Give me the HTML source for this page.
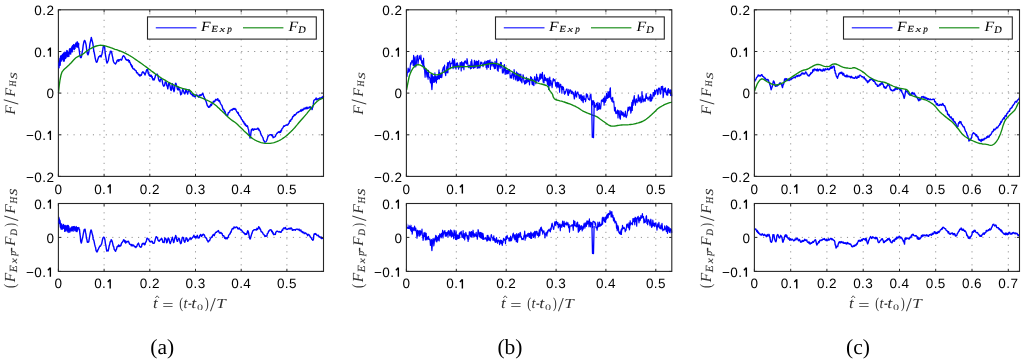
<!DOCTYPE html><html><head><meta charset="utf-8"><style>html,body{margin:0;padding:0;background:#fff;overflow:hidden}svg{display:block;will-change:transform;text-rendering:geometricPrecision}</style></head><body>
<svg width="1024" height="362" viewBox="0 0 1024 362">
<rect width="1024" height="362" fill="#fff"/>
<g font-family='"Liberation Sans", sans-serif' font-size="13.5" fill="#000">
<path d="M104.1 176.4V9.8M149.8 176.4V9.8M195.5 176.4V9.8M241.2 176.4V9.8M286.9 176.4V9.8" stroke="#8c8c8c" stroke-width="1" stroke-dasharray="1.1 5.4" stroke-dashoffset="0.5" fill="none"/>
<path d="M58.4 134.8H323.5M58.4 93.1H323.5M58.4 51.5H323.5" stroke="#8c8c8c" stroke-width="1" stroke-dasharray="1.1 5.35" stroke-dashoffset="4.2" fill="none"/>
<path d="M58.5 61.3 58.8 61.7 59.1 62 59.6 61.6 60 61.2 60.5 60.2 61.1 60.5 61.6 59.6 62.1 58.2 62.6 58.6 63.1 57.4 63.5 58.8 64 58.5 64.5 56.9 64.9 56.5 65.4 57 65.9 55.5 66.3 55.1 66.8 54.7 67.3 54.6 67.7 54.7 68.2 54.9 68.7 53 69.1 54 69.6 52.8 70 53 70.5 52.3 70.9 50.5 71.4 50.8 71.9 49 72.4 48 72.9 48.1 73.3 48.1 73.8 47 74.3 45.7 74.8 46.4 75.2 46 75.7 44 76.2 43.8 76.7 43.7 77.1 44.1 77.6 42.6 78 44 78.5 46.6 79 48.8 79.5 52.4 79.9 55.7 80.4 57.4 80.9 57.7 81.3 57.3 81.8 55.1 82.2 51.9 82.7 49.6 83.2 45.4 83.7 42.8 84.1 41.3 84.6 40.4 85.1 41.2 85.6 42.8 86.1 44.8 86.6 49.2 87 52.3 87.5 54 88 54.8 88.5 53.4 89 51 89.4 48 89.9 43.8 90.4 41.7 90.9 39.8 91.3 37.4 91.8 39.4 92.3 41.4 92.8 43.3 93.3 46.5 93.7 50.8 94.2 52.5 94.7 55.2 95.2 58.1 95.7 60.2 96.2 61.9 96.7 62.3 97.2 61.6 97.7 59.7 98.2 58.3 98.7 56.9 99.2 56.5 99.7 56.5 100.1 55.5 100.6 56.1 101 57.1 101.5 55.3 101.9 54.5 102.3 52.1 102.8 49.7 103.2 47.1 103.6 45.8 104.1 46 104.6 46.6 105 51.2 105.5 55.5 106 57.8 106.5 61.4 107 63 107.4 62.4 107.9 61.2 108.4 60.2 108.9 56.8 109.4 54.3 109.9 54 110.3 51.4 110.8 51.1 111.3 51.6 111.8 52.9 112.2 55.3 112.7 57.3 113.2 60.5 113.6 61.8 114.1 62.8 114.6 63.3 115 63.6 115.5 64.1 116 62.7 116.5 62.7 116.9 60.8 117.4 60.1 117.9 60.8 118.3 59.6 118.8 61.2 119.3 59.9 119.8 59.6 120.2 59.5 120.7 59.3 121.2 60.2 121.7 59.7 122.2 58.2 122.6 56.9 123.1 56 123.6 55.7 124 56 124.6 57 125.1 57.6 125.5 58.9 126 59.7 126.5 59.4 127 60.3 127.4 60 127.9 60.6 128.4 59.8 129 62 129.4 60.6 129.8 62.6 130.3 62.9 130.8 64.8 131.2 64.4 131.7 66.8 132.2 65.9 132.7 68.2 133.2 68.8 133.7 69 134.2 68.9 134.7 69.8 135.2 70.4 135.7 70.4 136.1 70.8 136.6 72.7 137.1 72.7 137.7 72.9 138.2 74.3 138.7 74.9 139.2 74.5 139.6 75.8 140 76.1 140.5 75 141 74.8 141.3 75.2 141.7 74 142.1 72.6 142.5 72.2 142.9 71.8 143.3 72.1 143.7 73.1 144.1 72.8 144.5 73.8 145 75 145.4 73.5 145.9 72.5 146.3 70.9 146.7 69.6 147.1 70 147.6 69.2 147.9 71.5 148.3 73.5 148.7 73 149.1 75.3 149.5 75.7 149.9 74.9 150.3 76.3 150.7 75.8 151.2 75.3 151.6 77 152.1 76.5 152.6 79.1 153.2 80 153.7 78.8 154.2 79.9 154.6 78.5 155.1 77.3 155.6 74.6 156.1 74.6 156.6 74.4 157.1 74.1 157.6 74.9 158.1 76.6 158.6 79.4 159.1 80.9 159.5 81 160 81.7 160.3 79.4 160.7 79 161.2 78.8 161.6 79.1 162.1 80.2 162.7 83.7 163.2 85.4 163.7 86.2 164.1 85.8 164.6 85.5 164.9 83.6 165.3 81.8 165.7 82.4 166.3 82.7 166.8 85.7 167.4 86.6 167.8 88.9 168.3 85.7 168.6 83.5 169 83.7 169.4 83 169.8 85.1 170.3 87.1 170.7 89.9 171.1 90.4 171.6 89.6 172 85.4 172.4 83.8 172.8 85.3 173.2 88.3 173.6 90.1 174 91.7 174.4 90.1 174.8 86.5 175.2 84.6 175.7 83.2 176.1 83.8 176.6 85.9 177 87.1 177.4 89.2 177.8 88.6 178.2 90.1 178.6 87.4 179 88.4 179.4 89.6 179.8 89.6 180.3 92.4 180.7 94.8 181.1 93.6 181.5 94 181.9 92.3 182.3 90.6 182.7 89.4 183.1 89.9 183.5 91.3 184 92.5 184.4 93.3 184.8 93.9 185.3 92.7 185.7 90.1 186.1 89.1 186.5 90.1 186.9 92.5 187.3 92.4 187.7 94 188.1 92 188.5 90.9 189 89.7 189.4 91 189.9 91.4 190.5 93.4 191 93.9 191.5 94.4 192 94.1 192.5 95.9 193 94.4 193.5 95.4 194 96.6 194.4 96.5 194.8 95.9 195.2 97.1 195.6 95.2 196 95.1 196.4 94.8 196.8 95.4 197.2 95.2 197.7 96.1 198.1 96.2 198.5 97.2 198.9 96.4 199.4 95 199.8 95.5 200.2 95.3 200.7 94.7 201.1 95.5 201.5 94.7 201.9 94.6 202.3 93.8 202.7 93.3 203.1 94.3 203.5 95.6 203.9 96.9 204.3 96.9 204.6 99.2 205 98.6 205.5 100.4 205.9 101.1 206.3 102.1 206.8 103.8 207.3 105.5 207.7 106.1 208.2 106.4 208.6 107.4 209.1 107.1 209.5 106.1 209.9 106.9 210.4 105.3 210.8 104.2 211.2 105.6 211.6 105 212 103.7 212.4 103.5 212.9 102.8 213.4 101.1 213.8 102.1 214.3 101.3 214.8 101.5 215.3 100.1 215.8 99.3 216.3 100 216.8 99.4 217.3 100 217.8 98.6 218.2 100.2 218.7 101.1 219.1 100.3 219.6 100.8 220 102.4 220.5 103.5 221 104.3 221.5 105 222 105.7 222.5 107.5 223 109.2 223.5 109.2 224 110 224.4 111.9 224.9 111.3 225.4 113 225.8 114.3 226.2 114.9 226.6 115.2 227 115.3 227.4 114.7 227.8 115.2 228.3 112.7 228.7 112.8 229.1 112.1 229.6 112 230 110.7 230.5 110.1 230.9 110.1 231.4 110 231.9 109.4 232.4 109.9 232.9 108.9 233.4 108.4 233.8 109.3 234.3 109 234.8 108.4 235.3 109.5 235.8 109.2 236.3 110.7 236.8 111.8 237.3 112.1 237.7 113.2 238.2 112.5 238.7 114.7 239.2 115.5 239.7 115.4 240.2 116.8 240.6 117 241 117.9 241.5 119.2 242 119.6 242.4 120.2 242.8 121.4 243.2 121.9 243.6 121.4 244 123 244.5 124.1 244.9 123.3 245.4 125.4 245.8 124.6 246.2 126 246.7 126.3 247.2 125.8 247.6 126.3 248.1 128.4 248.6 129.9 249.1 133.6 249.6 135.8 250.1 138 250.5 137.1 250.9 133.2 251.4 129.7 251.8 130.5 252.2 129 252.6 128.8 253.1 129.1 253.6 130.3 254.1 129.2 254.6 129 255.1 129.4 255.6 129.3 256.1 129.4 256.6 129.1 257.1 128.8 257.6 128.2 258.1 128.3 258.5 129.7 259 129.3 259.4 130.7 259.8 130.9 260.2 131.4 260.6 133.3 261.1 134.6 261.5 135.4 262 136 262.5 137 263 137.9 263.5 140.2 264 140.6 264.4 141.7 265 142.3 265.4 142 265.8 141.7 266.3 141.2 266.7 140.5 267.1 139.2 267.5 138.2 268 135.9 268.4 136.2 268.9 135.4 269.3 135 269.8 134.9 270.3 134.8 270.8 134.6 271.3 134.7 271.8 135.8 272.2 134.8 272.7 136.2 273.2 137.7 273.6 137.1 274.1 137.1 274.5 137.1 274.9 136.8 275.4 136.3 275.9 134.9 276.4 134.1 276.9 133.2 277.4 133.2 277.9 132.2 278.3 132.3 278.8 131.8 279.2 132.5 279.7 132.3 280.1 131.2 280.6 132.3 281.1 130.3 281.5 130.7 282 128.7 282.5 128.3 283 127.6 283.4 126.8 283.9 125.8 284.4 126.3 284.8 125.8 285.2 125.6 285.7 125.4 286.1 124.9 286.6 125 287.1 125.3 287.6 124.8 288 124.7 288.5 123.6 289 123.4 289.5 121.3 290 120.5 290.5 121.2 291 119.5 291.5 119.2 292 119.1 292.5 117.1 292.9 116.5 293.4 116.6 293.9 115.5 294.4 114.7 294.9 115.5 295.4 114.7 295.8 114.1 296.3 114 296.8 112.9 297.2 112.7 297.7 112.2 298.3 112.5 298.8 111.7 299.2 111.7 299.7 111.4 300.1 111.2 300.6 109.9 301.1 111.1 301.6 111.1 302.1 109.2 302.5 110.3 303 109.8 303.5 109.9 304 108.2 304.5 108.1 305 108.9 305.5 108.6 306 107.5 306.5 108.7 307 107.1 307.5 108.5 307.9 108.1 308.4 107.9 308.8 108.1 309.2 106.9 309.8 107.6 310.3 106.8 310.8 108.7 311.3 108 311.7 108.1 312.1 109.6 312.4 107.9 312.9 107 313.3 104.4 313.7 101.1 314.1 100.1 314.5 100 315 99.7 315.7 99 316.1 98 316.5 99.9 317 99.4 317.5 98.9 318.1 99.4 318.6 98.6 319.1 98.5 319.6 98.1 320.1 98.6 320.7 98.7 321.2 97.5 321.8 97.4 322.3 97.5 322.8 96.5 323.2 97.9 323.5 96.4" stroke="#0000ff" stroke-width="1.4" fill="none" stroke-linejoin="round"/>
<path d="M58.5 93 59.2 86 60 80 61 75 62.1 71.8 63.3 70.3 64.5 69 65.4 68.2 66.3 67.4 67.6 66.2 69 65 69.9 64.1 71 63 72.1 61.7 73.4 60.3 74.6 59 75.9 57.8 77.5 56.8 78.7 56.2 80.2 55.5 81.7 54.8 82.9 54.1 84 53.2 84.9 52.4 86 51.5 87.2 50.7 88.6 49.8 89.9 49 91.2 48.3 92.5 47.6 93.7 47 95 46.5 96.4 46 97.9 45.6 99.5 45.3 100.7 45.2 101.9 45.3 103.2 45.5 104.8 45.8 106.1 46.2 107.5 46.6 109.1 47.1 110.6 47.7 112.2 48.2 113.8 48.8 115.1 49.3 116.5 49.7 117.8 50.2 119.2 50.7 120.5 51.2 121.8 51.7 123 52.2 124.4 52.8 125.7 53.4 126.9 54.1 128.2 54.7 129.4 55.5 130.7 56.2 132 57 133.2 57.8 134.5 58.7 135.8 59.6 137.1 60.5 138.5 61.5 139.8 62.4 141.1 63.3 142.5 64.3 143.8 65.3 145.2 66.2 146.4 67.1 147.6 68 149 69.1 150.3 70 151.4 71 152.7 71.9 154 72.9 155.2 73.8 156.5 74.7 157.8 75.6 159.2 76.6 160.6 77.5 162.1 78.5 163.5 79.3 165 80.2 166.5 81.1 168.1 82 169.7 82.8 171.1 83.6 172.5 84.3 173.9 85 175.3 85.6 176.6 86.2 177.8 86.7 179 87.2 180.1 87.6 181.7 88.2 183.3 88.6 184.7 89 186 89.3 187.5 89.6 188.8 89.9 190 90.4 191.1 91.4 192.1 92.7 193.2 93.8 194.3 94.6 195.5 95.2 197.1 96 198.2 96.5 199.4 97 200.7 97.5 202.1 98.1 203.5 98.7 204.9 99.3 206.1 99.9 207.4 100.4 208.7 101 210 101.7 211.4 102.4 212.7 103.1 214 104 215.3 105 216.6 106.1 218 107.4 219.3 108.6 220.6 109.9 221.9 111.1 223.1 112.3 224.5 113.6 225.9 114.9 227.2 116.2 228.5 117.4 229.7 118.5 230.9 119.5 232.4 120.6 233.6 121.4 234.9 122.2 236.5 123.5 237.8 124.7 239.3 126.2 240.9 127.7 242.5 129.3 244 130.9 245.5 132.3 246.9 133.6 248.2 134.8 249.5 136 250.7 137.1 252 138.1 253.3 139 254.6 139.8 255.9 140.5 257.2 141.2 258.5 141.7 259.8 142.2 261.1 142.6 262.4 142.9 263.7 143.2 265 143.3 266.3 143.4 267.6 143.4 268.9 143.4 270.2 143.3 271.5 143.1 272.8 142.9 274.1 142.6 275.4 142.2 276.7 141.7 278 141.1 279.3 140.5 280.6 139.8 281.9 139 283.2 138.1 284.5 137.2 285.8 136.2 287.1 135.2 288.4 134 289.7 132.8 291 131.6 292.3 130.3 293.6 128.9 294.9 127.5 296.2 125.9 297.5 124.4 298.8 122.8 300.1 121.3 301.4 119.8 302.8 118.2 304.2 116.6 305.5 115.1 306.8 113.6 307.9 112.2 309.4 110.3 310.7 108.7 311.9 107.1 313.1 105.6 314.4 104.1 315.7 102.7 317 101.5 318.3 100.4 319.7 99.5 321.2 98.9 322.6 98.4 323.5 98" stroke="#128a12" stroke-width="1.35" fill="none" stroke-linejoin="round"/>
<path d="M58.4 176.4v-2.6M58.4 9.8v2.6M104.1 176.4v-2.6M104.1 9.8v2.6M149.8 176.4v-2.6M149.8 9.8v2.6M195.5 176.4v-2.6M195.5 9.8v2.6M241.2 176.4v-2.6M241.2 9.8v2.6M286.9 176.4v-2.6M286.9 9.8v2.6M58.4 176.4h2.6M323.5 176.4h-2.6M58.4 134.8h2.6M323.5 134.8h-2.6M58.4 93.1h2.6M323.5 93.1h-2.6M58.4 51.5h2.6M323.5 51.5h-2.6M58.4 9.8h2.6M323.5 9.8h-2.6" stroke="#262626" stroke-width="1" fill="none"/>
<rect x="58.4" y="9.8" width="265.1" height="166.6" fill="none" stroke="#262626" stroke-width="1.1"/>
<text x="54.5" y="193.55">0</text>
<text x="94.17 102.01" y="193.55">0.</text><path d="M110.19 184.3V193.55M110.14 184.65L107.74 187.15" stroke="#000" stroke-width="1.4" fill="none"/>
<text x="139.87 147.71 151.94" y="193.55">0.2</text>
<text x="185.58 193.42 197.65" y="193.55">0.3</text>
<text x="231.29 239.13 243.36" y="193.55">0.4</text>
<text x="276.99 284.83 289.06" y="193.55">0.5</text>
<text x="26 34.31 42.15 46.4" y="181.75">−0.2</text>
<text x="26 34.31 42.15" y="140.1">−0.</text><path d="M50.35 130.85V140.1M50.3 131.2L47.9 133.7" stroke="#000" stroke-width="1.4" fill="none"/>
<text x="46.4" y="98.45">0</text>
<text x="34.31 42.15" y="56.8">0.</text><path d="M50.35 47.55V56.8M50.3 47.9L47.9 50.4" stroke="#000" stroke-width="1.4" fill="none"/>
<text x="34.31 42.15 46.4" y="15.15">0.2</text>
<path d="M104.1 271.4V203.5M149.8 271.4V203.5M195.5 271.4V203.5M241.2 271.4V203.5M286.9 271.4V203.5" stroke="#8c8c8c" stroke-width="1" stroke-dasharray="1.1 5.4" stroke-dashoffset="0.5" fill="none"/>
<path d="M58.4 237.4H323.5" stroke="#8c8c8c" stroke-width="1" stroke-dasharray="1.1 5.35" stroke-dashoffset="4.2" fill="none"/>
<path d="M58.6 216.9 58.9 218 59.4 220 59.9 220.4 60.2 223.3 60.6 224.2 61.2 225.3 61.6 226.5 62 226.4 62.4 226.4 62.9 227.2 63.5 227.8 64 227.5 64.5 228.9 65 228.1 65.5 229.1 66 228.7 66.5 228.5 67 229.4 67.5 230 68 229.8 68.5 230.2 69 229.3 69.5 229.3 70 229.2 70.4 229.7 70.9 230.2 71.3 229.2 71.8 229.7 72.4 228.3 72.9 228.3 73.3 229 73.8 229 74.3 228.9 74.9 227.5 75.4 228.1 75.9 227.4 76.4 228.1 76.9 227.7 77.4 227.8 77.8 228 78.1 228.4 78.8 227.6 79.1 229.2 79.5 229.6 79.9 233.7 80.3 236.5 80.7 241.2 81.3 243.1 81.7 241.7 82.1 239.5 82.6 237.8 83.1 235 83.6 232.3 84.1 229.8 84.6 229.4 85.1 229.3 85.5 232.2 86 234.4 86.4 238 86.9 239.4 87.3 242.2 87.8 242.4 88.3 242.2 88.8 241.7 89.2 238.9 89.7 236.1 90.2 233.1 90.7 230.8 91.1 229.9 91.6 231.1 92 233.1 92.4 234.5 92.8 235.8 93.2 239.3 93.7 240 94.1 241.4 94.6 244.2 95.1 246.2 95.6 247.5 96.1 250.8 96.5 251 96.9 252 97.5 251.2 98 249.5 98.4 249.2 98.9 247.8 99.4 246.9 99.8 246.1 100.2 246.3 100.8 245.6 101.2 244.4 101.6 244.2 102.1 241.7 102.6 239.1 103 237.9 103.5 237.3 104 237.2 104.5 238.3 104.9 239.7 105.4 243.6 105.8 245.2 106.3 248.5 106.8 251 107.3 250.8 107.8 250.3 108.2 250.9 108.7 248.6 109.2 245.7 109.7 244.5 110.2 241.6 110.7 241.6 111.2 239.7 111.7 240.2 112.2 241.4 112.7 243.7 113.2 246 113.7 246.7 114.2 249.3 114.7 250 115.1 250.8 115.6 251.3 116 249.9 116.4 249.7 116.8 247.9 117.2 246.4 117.7 246.6 118.1 246 118.6 245 119.1 246.5 119.5 246.1 120 245.4 120.5 245.9 120.9 245.5 121.4 243.5 121.8 242.7 122.2 242.5 122.7 241.5 123.1 241.2 123.5 239.9 123.9 239.8 124.4 240.5 124.8 242.1 125.3 240.8 125.7 243 126.1 242.6 126.6 242.1 127 241.3 127.4 241.6 128 241.7 128.4 241.3 128.9 242.3 129.4 243.8 129.9 244.4 130.4 244.5 130.9 244.4 131.3 245.7 131.8 244.4 132.2 245.8 132.7 245.8 133.1 244.9 133.5 245.3 133.9 245.5 134.4 246.6 134.9 246.8 135.4 246.5 135.9 247.6 136.3 246.6 136.8 246.5 137.2 245 137.7 244.2 138.1 243.6 138.5 243.1 139.1 244.9 139.5 246.2 140 246.7 140.5 247.2 141 247 141.5 246.8 141.9 244.6 142.4 243.5 142.9 244 143.3 243.5 143.7 243.3 144.1 243.6 144.5 244.9 145 244.7 145.5 242.4 146 242 146.5 240.5 147 238.1 147.5 238.4 148 238.8 148.5 239.1 149 240.1 149.5 241.3 150 241.8 150.5 241.4 151 241.9 151.5 241.1 151.9 241.2 152.4 241.6 152.8 243.2 153.2 243.4 153.7 243.4 154.2 243.2 154.7 241.5 155.2 239.6 155.7 238 156.2 236.6 156.7 237.1 157.2 237.4 157.6 238.6 158.1 240.4 158.6 240.4 159.1 241.3 159.6 240.7 160.1 239.8 160.6 239.9 161.1 238.9 161.6 238.3 162.1 239.1 162.5 240.7 162.9 242.4 163.3 242 163.7 242.4 164.1 242.6 164.5 240.1 164.9 238 165.3 238.5 165.7 238.7 166.2 239.6 166.6 242.7 167 242.6 167.4 241.1 167.8 239.4 168.2 237.9 168.6 238.5 169 239 169.4 241 169.8 242.7 170.3 243.6 170.7 242.3 171.2 241 171.6 239.4 172 238.4 172.4 237.2 172.8 239.2 173.2 240.9 173.6 242.6 174 242 174.4 239.6 174.9 237.7 175.3 237.1 175.7 235.5 176.1 236.6 176.5 239.1 176.9 240.3 177.3 241.4 177.7 241 178.1 239.4 178.6 238.3 179 238.2 179.4 239 179.8 240.8 180.3 243 180.7 243.7 181.2 243 181.7 240.6 182.2 237.8 182.7 237.2 183.1 237.5 183.6 238.2 184 241.1 184.4 240.9 184.8 242.3 185.3 240.6 185.7 239.7 186.1 237.6 186.5 238.2 186.9 238.3 187.3 239.8 187.7 241.4 188.1 240.7 188.5 240.5 188.9 239.7 189.4 238.9 189.8 238.5 190.2 237.9 190.6 238.2 191 239.5 191.5 238.5 191.9 238.6 192.4 237.3 193 237.3 193.5 236.3 193.9 235.2 194.4 236.7 194.8 237.5 195.2 237.1 195.6 236.6 196 238 196.5 236.4 196.9 236.5 197.3 235.3 197.7 236.8 198.1 238 198.5 237.4 198.9 237.3 199.3 237.8 199.8 235.5 200.2 235.7 200.6 234.4 201.1 235.2 201.6 236.4 202 235.3 202.5 235.4 203 234.2 203.5 234.2 203.9 234.5 204.3 235.1 204.7 235.9 205.1 237.3 205.6 237.8 206 237.7 206.5 238.2 207.1 240.2 207.6 240.6 208.1 242 208.5 240.9 209.1 240.9 209.6 240.8 210 239.3 210.5 238.4 210.9 237.9 211.3 237.1 211.8 237.4 212.2 237 212.6 235.3 213 235 213.4 234.4 213.8 234.9 214.2 235.7 214.7 234.2 215.1 233.3 215.6 232.5 216.2 232.1 216.7 232.2 217.2 231.4 217.6 231.3 218.1 231.4 218.5 230.6 218.9 231.9 219.3 232.8 219.7 233 220.2 233.2 220.7 232.4 221.2 232.8 221.7 233.6 222.1 233.5 222.5 235 222.9 235.9 223.3 235.9 223.8 235.7 224.2 237 224.7 238.2 225.1 237.3 225.6 238.8 226.1 238.4 226.7 237.8 227.1 238.9 227.6 237.5 228.1 237.5 228.7 235.3 229.2 234.6 229.7 234 230.2 233.8 230.6 231.9 231.1 232.2 231.6 230.2 232 229.2 232.4 228.5 232.8 228.7 233.2 228.8 233.6 228.6 234 226.9 234.4 227.2 234.8 227.6 235.3 227.7 235.8 227.4 236.2 227 236.7 227 237.2 227.3 237.7 228.8 238.2 228.7 238.7 229 239.2 227.8 239.6 228.6 240.1 229.4 240.5 229.9 240.9 229.5 241.3 230.1 241.7 230.4 242.2 231.1 242.6 232 243.1 232 243.7 233 244.2 232.9 244.7 233.8 245.2 234.5 245.7 233.7 246.1 234 246.7 234.3 247.2 232.5 247.7 230.8 248.1 231.1 248.6 232.8 249 235.3 249.5 237.7 250 239.1 250.4 238.5 250.8 237 251.2 235.8 251.6 234.1 252.1 233.1 252.6 231.4 253 230.7 253.5 230.4 254 229.8 254.5 229.9 255.1 229.5 255.6 229.9 256.1 229.5 256.5 230 257 228.3 257.5 229.4 257.9 228.8 258.3 228.1 258.7 226.6 259.1 227.9 259.5 227.5 259.9 229.1 260.4 229 260.8 230.4 261.2 231.7 261.7 231.8 262.1 232.2 262.6 232.5 263.1 234.1 263.6 234.1 264.1 234.8 264.6 235.9 265 236.5 265.6 235.8 266 236.2 266.4 235.8 266.9 236.1 267.3 233.7 267.7 233.5 268.2 232.6 268.6 231 269.1 231.1 269.5 230.6 269.9 229.9 270.4 229.7 270.8 230 271.3 230 271.7 231.5 272.1 231 272.6 233 273.1 232.6 273.5 234.6 274.1 234.1 274.5 234.4 274.9 234.5 275.4 234.4 275.8 232.1 276.3 231.9 276.8 231.1 277.3 231.2 277.8 231.4 278.2 231.7 278.7 232 279.2 232 279.8 231.4 280.3 232.2 280.7 232.4 281.2 232.2 281.7 231 282.2 229.9 282.7 230.3 283.1 228.8 283.6 228.1 284 227.9 284.5 228.1 285 228.7 285.4 227.5 285.9 228.5 286.3 229.2 286.8 229.5 287.2 229.1 287.7 229.2 288.2 228.7 288.6 228.5 289.1 228.8 289.6 228.3 290.1 229.1 290.5 228.6 290.9 227.9 291.4 228.2 291.9 228.8 292.3 230.3 292.9 230.4 293.3 229.6 293.8 229.8 294.3 229.7 294.8 229.8 295.3 230.2 295.8 229.5 296.3 229.2 296.8 229.1 297.3 229.1 297.8 229.6 298.2 229.7 298.7 229.9 299.1 229.1 299.5 230.4 300 230.8 300.5 230.2 300.9 229.9 301.4 231.8 301.8 231.8 302.3 231.5 302.8 232.7 303.3 232.5 303.8 232.2 304.2 233.6 304.7 233.6 305.3 232.9 305.8 233 306.3 233.9 306.7 234 307.2 234.5 307.7 235.7 308.2 234.3 308.7 234.9 309.1 234.9 309.5 235.1 310 236.4 310.4 237.3 310.9 237.3 311.4 238.3 311.8 239.3 312.3 239.2 312.6 240.1 313 240.3 313.5 239.1 313.8 235.2 314.3 233.6 314.7 234.3 315.1 234.3 315.5 233.6 316 234 316.6 234.9 317.1 235.5 317.6 235.5 318.1 235.1 318.6 236.3 319.1 236.7 319.6 236.5 320.2 237.5 320.6 237.8 321.1 236.9 321.5 238.6 322.2 238.2 322.7 237.9 323.2 238.6 323.5 237.8" stroke="#0000ff" stroke-width="1.4" fill="none" stroke-linejoin="round"/>
<path d="M58.4 271.4v-2.6M58.4 203.5v2.6M104.1 271.4v-2.6M104.1 203.5v2.6M149.8 271.4v-2.6M149.8 203.5v2.6M195.5 271.4v-2.6M195.5 203.5v2.6M241.2 271.4v-2.6M241.2 203.5v2.6M286.9 271.4v-2.6M286.9 203.5v2.6M58.4 271.4h2.6M323.5 271.4h-2.6M58.4 237.4h2.6M323.5 237.4h-2.6M58.4 203.5h2.6M323.5 203.5h-2.6" stroke="#262626" stroke-width="1" fill="none"/>
<rect x="58.4" y="203.5" width="265.1" height="67.9" fill="none" stroke="#262626" stroke-width="1.1"/>
<text x="54.5" y="288.45">0</text>
<text x="94.17 102.01" y="288.45">0.</text><path d="M110.19 279.2V288.45M110.14 279.55L107.74 282.05" stroke="#000" stroke-width="1.4" fill="none"/>
<text x="139.87 147.71 151.94" y="288.45">0.2</text>
<text x="185.58 193.42 197.65" y="288.45">0.3</text>
<text x="231.29 239.13 243.36" y="288.45">0.4</text>
<text x="276.99 284.83 289.06" y="288.45">0.5</text>
<text x="26 34.31 42.15" y="276.65">−0.</text><path d="M50.35 267.4V276.65M50.3 267.75L47.9 270.25" stroke="#000" stroke-width="1.4" fill="none"/>
<text x="46.4" y="242.73">0</text>
<text x="34.31 42.15" y="208.8">0.</text><path d="M50.35 199.55V208.8M50.3 199.9L47.9 202.4" stroke="#000" stroke-width="1.4" fill="none"/>
<path d="M456.3 176.4V9.8M506.2 176.4V9.8M556.1 176.4V9.8M605.9 176.4V9.8M655.8 176.4V9.8" stroke="#8c8c8c" stroke-width="1" stroke-dasharray="1.1 5.4" stroke-dashoffset="0.5" fill="none"/>
<path d="M406.4 134.8H671.8M406.4 93.1H671.8M406.4 51.5H671.8" stroke="#8c8c8c" stroke-width="1" stroke-dasharray="1.1 5.35" stroke-dashoffset="4.2" fill="none"/>
<path d="M406.6 74.1 407 76.4 407.3 72.6 407.7 72 408.1 68.1 408.4 71.2 408.8 72.2 409.1 69 409.5 70.8 409.9 71.2 410.2 66.5 410.6 62.9 411 64.3 411.4 62.2 411.8 60.9 412.1 60.3 412.5 62.2 412.9 63 413.2 65.5 413.6 55.4 414 59.8 414.4 66.7 414.7 64.2 415.1 56.9 415.5 64.2 415.8 67 416.2 65 416.6 60.8 416.9 56.1 417.3 57 417.6 55.4 418 64 418.4 60.7 418.7 59.4 419.1 58.8 419.4 55.8 419.8 58.3 420.2 58.1 420.6 60 420.9 55 421.3 59.7 421.7 63.2 422.1 61.9 422.4 60.7 422.8 65.6 423.2 63.8 423.6 58.2 424 69 424.4 66 424.7 72 425.1 77.3 425.5 70.9 425.9 69 426.3 69.4 426.6 74 427 76.9 427.3 72.1 427.7 73.2 428.1 79.2 428.4 70.4 428.8 76.8 429.1 76.8 429.5 77.4 429.9 78.5 430.3 82.3 430.7 83 431.1 74.1 431.4 79.3 431.8 80.6 432.2 74.2 432.6 79.4 433 76.3 433.4 79 433.7 82.5 434.1 77.2 434.5 82.2 434.9 72.9 435.2 81.3 435.6 80.3 436 76.2 436.4 82.9 436.7 78.8 437.1 76.6 437.5 79.5 437.9 75.2 438.2 79 438.6 74.3 439 69.9 439.4 79 439.8 72.7 440.1 77.3 440.5 77.5 440.9 73.3 441.3 73.3 441.7 77.6 442.1 75.3 442.4 70.5 442.8 69.2 443.1 68.2 443.5 66.8 443.9 69.6 444.2 71.9 444.6 65 444.9 72.5 445.3 73.4 445.7 75.7 446 71 446.4 70.5 446.8 66.6 447.1 72.8 447.5 62.7 447.9 72.8 448.3 66.6 448.6 62.5 449 62.9 449.4 62.5 449.7 61 450.1 68.8 450.4 67.4 450.8 63.3 451.2 63.6 451.5 63.7 451.9 62.7 452.2 62.5 452.6 58.5 453 68.6 453.4 64.2 453.7 60.7 454.1 67.8 454.5 59 454.9 63.4 455.2 65.6 455.6 67.5 456 69.2 456.4 63.1 456.7 67 457.1 64.5 457.5 62.8 457.9 67.3 458.2 65.3 458.6 69.2 459 66.3 459.3 66.5 459.7 67.2 460.1 62.5 460.5 62.7 460.8 63.4 461.2 70.9 461.6 61.7 461.9 63.8 462.3 67.5 462.7 67.7 463.1 62.3 463.5 64.5 463.9 69.7 464.2 65.1 464.6 61.2 465 62.1 465.4 60.9 465.8 63.2 466.2 63.2 466.6 64 467 58.5 467.3 59.9 467.7 63 468.1 66.4 468.5 67.1 468.9 67.7 469.3 65.2 469.7 65.4 470.1 66.4 470.5 68.9 470.9 61.5 471.3 68.5 471.7 59.7 472.1 63.3 472.4 65.7 472.8 67.7 473.2 65.4 473.6 68.3 474 65.1 474.4 60.3 474.8 67.7 475.2 67.5 475.6 62.6 476 61 476.4 65.6 476.8 61.2 477.2 68.2 477.6 61.5 478 68.1 478.4 67.6 478.7 60.4 479.1 66.9 479.5 67.7 479.9 67.9 480.3 66.3 480.7 62 481.1 62.1 481.5 63.6 481.9 62.4 482.3 64.5 482.7 65.6 483.1 66.7 483.4 64.7 483.8 63 484.2 62.3 484.6 64.1 485 61.1 485.4 64.4 485.8 63.8 486.1 67.5 486.5 61.4 486.9 69.1 487.3 63.6 487.7 60.5 488.1 65.2 488.4 67.5 488.8 60.6 489.2 63.6 489.6 62.6 490 59.8 490.4 69.4 490.8 62.6 491.1 66.2 491.5 62.1 491.9 64.9 492.3 62.2 492.7 63.1 493.1 66.1 493.5 63 493.9 64.8 494.2 67.9 494.6 68.7 495 61.4 495.4 68.4 495.8 64.4 496.2 64.7 496.6 58.9 497 66.4 497.4 70.1 497.8 65.5 498.2 71.3 498.5 65 498.9 63.8 499.3 66.2 499.7 66.1 500.1 68.5 500.5 62.3 500.9 66.9 501.3 62.6 501.7 67.3 502.1 67 502.4 72.9 502.8 69.9 503.2 72.9 503.6 70.6 504 65.7 504.4 64.5 504.8 71.3 505.2 74.4 505.6 67.6 505.9 73 506.3 70.3 506.7 74 507.1 70.5 507.5 70.4 507.9 73.8 508.3 73.5 508.7 70.4 509.1 70.8 509.5 69.5 509.9 72.5 510.2 77.9 510.6 76.1 511 77.8 511.4 75 511.8 78.1 512.2 72.9 512.6 72.6 513 75.1 513.4 75.6 513.8 79.3 514.1 69.5 514.5 72.8 514.9 76.3 515.3 75.9 515.7 79.9 516.1 77.4 516.5 71.8 516.9 74.1 517.3 80.9 517.7 73 518 80 518.4 80.7 518.8 73.8 519.2 79.3 519.6 74.3 520 80.3 520.4 80.8 520.8 74 521.2 80.1 521.5 81.9 521.9 82.9 522.3 79.2 522.7 77.8 523.1 74.7 523.5 76.4 523.9 82 524.3 82 524.7 84.2 525.1 80.5 525.5 81.7 525.9 83.6 526.3 77.4 526.7 78 527.1 82.5 527.5 79 527.9 79.5 528.3 81.5 528.7 78.9 529.1 80.6 529.5 84.9 529.9 80.6 530.3 80.7 530.7 76.6 531.1 78.2 531.5 77.6 531.9 82.8 532.3 84.5 532.7 79.2 533.1 85 533.5 83.5 533.9 85.6 534.3 79.2 534.7 76.6 535.1 78.7 535.5 79.7 535.8 83.8 536.2 81.8 536.6 74.2 537 78.4 537.4 80.2 537.8 77.4 538.2 81.4 538.6 81.4 539 80.5 539.3 80.4 539.7 75.7 540.1 73.8 540.5 79.1 540.9 77.1 541.3 74.2 541.7 76.5 542 78.5 542.4 72.3 542.8 78.8 543.2 82.2 543.6 80.3 544 82.9 544.3 74.9 544.7 77.3 545.1 80.3 545.5 77.6 545.9 80.8 546.3 80.9 546.6 80.1 547 78.5 547.4 84.4 547.8 81.5 548.2 78.2 548.6 89.5 549 85.8 549.4 80.5 549.8 77.1 550.2 85.7 550.6 80.6 551 80.8 551.4 83.5 551.8 85.4 552.1 87.6 552.5 83.6 552.9 80.5 553.3 78.5 553.7 81 554.1 80 554.5 79.9 554.9 79.5 555.3 82.7 555.7 86.1 556.1 82.9 556.5 82.6 556.9 88 557.3 86 557.6 82.2 558 84.5 558.4 87.1 558.8 82.7 559.2 86 559.6 92.1 559.9 86.6 560.3 84.4 560.7 84.2 561.1 87.2 561.5 86.6 561.9 93.3 562.2 86.4 562.6 86.9 563 89.4 563.4 87.1 563.8 90.3 564.2 93.1 564.6 94.3 565 91.6 565.3 93.3 565.7 92 566.1 90.1 566.5 89.2 566.9 88.9 567.3 90.2 567.7 93.7 568.1 95.5 568.5 95.1 568.8 89.4 569.2 93.2 569.6 92.4 570 90.9 570.4 89.9 570.8 90.4 571.2 91.9 571.6 93.6 572 91.1 572.4 92.7 572.8 92.1 573.1 94.3 573.5 92.9 573.9 96 574.3 99 574.7 97.9 575.1 92.4 575.5 91.1 575.9 95.9 576.3 95.3 576.6 97.1 577 92.9 577.4 93.1 577.8 91.9 578.2 93.5 578.6 94.6 579 95.5 579.4 98.5 579.8 96.7 580.1 94.7 580.5 96.5 580.9 99.6 581.3 94.9 581.7 100.7 582.1 98.2 582.5 96 582.8 101.5 583.2 102.6 583.6 97.6 584 95.7 584.4 99.5 584.8 98.7 585.2 99.1 585.5 101.6 585.9 99.9 586.3 94 586.7 93.8 587.1 96.8 587.5 94.7 587.8 96.5 588.2 98.8 588.6 99.5 589 98.9 589.4 100.1 589.8 99.6 590.2 94.8 590.6 95 590.9 94.1 591.3 99.5 591.7 101.6 592.1 103.4 592.5 104.9 592.9 100.5 593.3 102.7 593.7 100.9 594.1 106.5 594.4 104.4 594.8 107.5 595.2 107.5 595.6 105.5 596 104.7 596.4 103.2 596.8 104.5 597.1 110.5 597.5 108.9 597.9 102.4 598.3 108.7 598.7 109.5 599.1 108.7 599.5 103.2 599.8 106.9 600.2 108.8 600.6 109 601 105.1 601.4 100.2 601.8 100.6 602.2 99.8 602.5 101.3 602.9 101.6 603.3 98.6 603.7 98.2 604.1 105.3 604.5 99.5 604.9 96 605.3 102.3 605.7 100.2 606.1 100.7 606.5 93.4 606.8 97.6 607.2 98.4 607.6 98 608 91.7 608.4 94 608.8 97.6 609.2 91.7 609.6 96.9 610 88.7 610.4 87.8 610.8 99 611.2 97.7 611.5 98.7 611.9 101.3 612.3 98.8 612.7 97.4 613 102.3 613.4 101.9 613.8 101.3 614.2 106.4 614.5 110.7 614.9 111.2 615.3 107.3 615.7 113.1 616.1 113.7 616.5 111.8 616.8 113.3 617.2 110.7 617.6 110 618 118 618.4 112.1 618.8 110.7 619.2 111 619.6 116.8 620 118.5 620.4 119.2 620.8 110.7 621.1 115 621.5 111.4 621.9 111.8 622.3 115.3 622.7 114.4 623.1 112.4 623.5 114.3 623.9 116.8 624.3 114.1 624.7 116.2 625 115.4 625.4 111.1 625.8 116.2 626.2 117.7 626.6 116.1 627 115.4 627.3 113.1 627.7 109.9 628.1 107.2 628.5 110.8 628.8 107.4 629.2 108.7 629.6 106.9 630 109.8 630.4 107.1 630.8 113.2 631.2 111.8 631.5 106.9 631.9 102.4 632.3 110.5 632.7 100 633.1 105.4 633.5 101.3 633.9 97.7 634.3 95.5 634.7 102.4 635.1 103.5 635.5 105.3 635.9 99.5 636.3 98.8 636.7 101.1 637.1 102.6 637.5 100.6 637.9 100.5 638.3 94.9 638.7 97.9 639 101.7 639.4 100.9 639.8 98.9 640.2 96.9 640.5 99.4 640.9 102.8 641.3 100.5 641.6 102.1 642 91.6 642.4 99.3 642.8 95.7 643.1 101.9 643.5 99 643.9 100.8 644.3 99.1 644.6 98.9 645 101.5 645.4 100.2 645.8 95.9 646.2 93.5 646.6 98.4 646.9 97.4 647.3 97.2 647.7 98.6 648.1 100.1 648.5 98.9 648.9 97.5 649.2 96.8 649.6 97.5 650 101 650.4 94.2 650.8 101.1 651.1 94.9 651.5 100.8 651.9 99.2 652.3 97.6 652.7 98.2 653.1 92.6 653.4 92.5 653.8 95.8 654.2 96.2 654.6 90.1 655 94.7 655.4 91.3 655.7 93.9 656.1 90.5 656.5 90.2 656.9 89.2 657.3 90.8 657.7 94.6 658.1 94.1 658.5 88 658.8 89.8 659.2 88.7 659.6 88.2 660 92.7 660.4 94.1 660.8 93.2 661.2 86.8 661.5 86.5 661.9 88 662.3 89.8 662.7 86.2 663.1 97.7 663.5 95.4 663.8 90.6 664.2 88.4 664.6 89.6 665 91.9 665.4 87.8 665.8 92.4 666.1 92.6 666.5 95 666.9 92.6 667.3 90.3 667.7 95.3 668 89.3 668.4 88.5 668.8 92.8 669.2 92.6 669.5 91.9 669.9 89.8 670.3 90.7 670.7 95.5 671 89.9 671.4 90.8 671.8 96.4" stroke="#0000ff" stroke-width="1.15" fill="none" stroke-linejoin="round"/>
<path d="M406.6 90 407.7 83.8 409.2 76.5 410.4 73.1 411.7 70.3 413.1 68 414.3 66.7 415.5 65.6 416.9 64.9 418.3 64.7 419.5 64.9 420.9 65.4 422.2 66.2 423.6 67.1 424.8 67.9 426.2 69 427.4 70.3 428.6 71.5 430 72.5 431.2 73.2 432.5 73.8 433.8 74.3 435.2 74.7 436.5 74.8 437.8 74.7 439.1 74.3 440.4 73.8 441.7 73.1 443 72.5 444.3 71.8 445.6 71 446.9 70.1 448.2 69.3 449.5 68.6 450.7 68 451.8 67.6 452.9 67.2 454.3 66.8 456 66.6 457.2 66.5 458.4 66.5 459.8 66.5 461.3 66.5 462.8 66.6 464.4 66.6 465.9 66.6 467.4 66.6 468.9 66.6 470.4 66.5 471.8 66.4 473.3 66.3 474.8 66.1 476.3 66 477.8 65.8 479.2 65.7 480.6 65.5 481.9 65.3 483.5 65 485.1 64.7 486.7 64.4 488.2 64 489.6 63.7 491 63.5 492.3 63.4 493.8 63.4 495.1 63.5 496.4 63.6 497.6 63.9 498.8 64.3 500.1 64.7 501.4 65.3 502.7 66 504 66.7 505.3 67.6 506.6 68.4 507.9 69.2 509.2 70 510.5 70.8 511.8 71.5 513.1 72.3 514.4 73.1 515.7 73.8 517 74.5 518.2 75.2 519.4 75.8 520.7 76.5 522 77.1 523.5 77.7 524.9 78.2 526.5 78.7 528.2 79.2 529.8 79.7 531.4 80.1 532.8 80.5 533.9 80.9 535.2 81.6 535.7 82.1 537 82.8 538.2 83.2 539.7 83.6 541.4 84 543.2 84.5 544.8 85 546.3 85.5 547.4 86 548.8 87.9 549.3 89.9 550.3 91.4 551.6 92.9 552.6 94.5 553.2 96.9 554.5 99 555.5 99.5 556.8 100 558.3 100.4 559.9 100.8 561.5 101.1 563 101.6 564.3 102 565.6 102.5 567 103 568.4 103.5 569.7 103.9 570.9 104.4 572.1 104.9 573.6 105.6 575 106.2 576.3 106.9 577.5 107.5 578.6 108.1 579.9 109 580.9 109.8 582.5 110.8 583.7 111.4 585.3 112.1 586.9 112.8 588.6 113.5 590.2 114.1 591.5 114.7 593 115.3 594.3 115.7 595.4 116.1 596.7 116.7 597.9 117.4 599.1 118.3 600.4 119.3 601.8 120.2 603.2 121.2 604.4 122 605.7 123 606.9 123.9 608.3 124.8 609.6 125.5 611 126 612.2 126.2 613.5 126.1 614.7 126 616 125.8 617.4 125.5 618.7 125.3 620.1 125.1 621.5 125 623 124.9 624.5 124.9 626.1 124.8 627.6 124.8 629.1 124.7 630.5 124.5 631.9 124.3 633.3 124.1 634.6 123.8 636 123.5 637.2 123.2 638.4 122.9 639.6 122.5 641 122 642.3 121.5 643.5 120.9 644.8 120.2 646.1 119.3 647.4 118.3 648.7 117.2 650.1 115.9 651.5 114.7 652.8 113.5 653.9 112.5 655.5 110.9 656.8 109.6 658 108.5 659.3 107.6 660.6 106.8 662 106 663.2 105.4 664.4 104.7 665.7 104.1 667 103.6 668.3 103.1 669.7 102.6 670.9 102.3 671.8 102" stroke="#128a12" stroke-width="1.35" fill="none" stroke-linejoin="round"/>
<path d="M406.4 176.4v-2.6M406.4 9.8v2.6M456.3 176.4v-2.6M456.3 9.8v2.6M506.2 176.4v-2.6M506.2 9.8v2.6M556.1 176.4v-2.6M556.1 9.8v2.6M605.9 176.4v-2.6M605.9 9.8v2.6M655.8 176.4v-2.6M655.8 9.8v2.6M406.4 176.4h2.6M671.8 176.4h-2.6M406.4 134.8h2.6M671.8 134.8h-2.6M406.4 93.1h2.6M671.8 93.1h-2.6M406.4 51.5h2.6M671.8 51.5h-2.6M406.4 9.8h2.6M671.8 9.8h-2.6" stroke="#262626" stroke-width="1" fill="none"/>
<rect x="406.4" y="9.8" width="265.4" height="166.6" fill="none" stroke="#262626" stroke-width="1.1"/>
<text x="402.5" y="193.55">0</text>
<text x="446.35 454.19" y="193.55">0.</text><path d="M462.37 184.3V193.55M462.32 184.65L459.92 187.15" stroke="#000" stroke-width="1.4" fill="none"/>
<text x="496.23 504.07 508.3" y="193.55">0.2</text>
<text x="546.12 553.96 558.19" y="193.55">0.3</text>
<text x="596.01 603.85 608.08" y="193.55">0.4</text>
<text x="645.9 653.74 657.97" y="193.55">0.5</text>
<text x="374 382.31 390.15 394.4" y="181.75">−0.2</text>
<text x="374 382.31 390.15" y="140.1">−0.</text><path d="M398.35 130.85V140.1M398.3 131.2L395.9 133.7" stroke="#000" stroke-width="1.4" fill="none"/>
<text x="394.4" y="98.45">0</text>
<text x="382.31 390.15" y="56.8">0.</text><path d="M398.35 47.55V56.8M398.3 47.9L395.9 50.4" stroke="#000" stroke-width="1.4" fill="none"/>
<text x="382.31 390.15 394.4" y="15.15">0.2</text>
<path d="M456.3 271.4V203.5M506.2 271.4V203.5M556.1 271.4V203.5M605.9 271.4V203.5M655.8 271.4V203.5" stroke="#8c8c8c" stroke-width="1" stroke-dasharray="1.1 5.4" stroke-dashoffset="0.5" fill="none"/>
<path d="M406.4 237.4H671.8" stroke="#8c8c8c" stroke-width="1" stroke-dasharray="1.1 5.35" stroke-dashoffset="4.2" fill="none"/>
<path d="M406.6 223.6 407 227.5 407.4 227.9 407.8 228.4 408.2 227.3 408.6 228.5 409 225.2 409.4 228.6 409.8 227.3 410.2 226.6 410.6 230.2 411 225.2 411.4 231.4 411.8 227.7 412.2 234.2 412.6 231.1 413 227.3 413.4 230.4 413.8 229.4 414.2 229.9 414.6 226.1 415 230.7 415.4 228.3 415.8 228 416.2 231.3 416.6 233.5 417 238.1 417.4 230.2 417.8 232.8 418.1 236 418.5 232.3 418.9 230.5 419.3 230.7 419.7 236.1 420.1 234 420.4 230.7 420.8 234.8 421.2 231.5 421.6 232.9 422 229 422.4 235.8 422.7 235.7 423.1 240.5 423.5 237.5 423.9 232.9 424.3 236.4 424.6 235.5 425 232.3 425.4 240 425.8 235.3 426.2 233.3 426.6 239.5 426.9 239.9 427.3 237 427.7 237.2 428.1 239.1 428.5 236.3 428.9 239.4 429.2 239.6 429.6 239.1 430 239.1 430.4 245.5 430.8 242.5 431.1 241.5 431.5 239.6 431.9 240.2 432.3 243.1 432.7 241 433.1 238.4 433.4 239.6 433.8 245.9 434.2 243.5 434.6 238.7 435 238.8 435.4 239.8 435.7 235.3 436.1 241.3 436.5 236.1 436.9 242 437.3 237.5 437.6 239 438 240.2 438.4 235.7 438.8 236.8 439.2 241 439.6 234.9 439.9 233.7 440.3 236.6 440.7 234.9 441.1 238 441.5 233.3 441.9 236.3 442.2 235.4 442.6 230.2 443 237.9 443.4 232.7 443.8 234.2 444.1 231 444.5 232.5 444.9 230.6 445.3 236.3 445.7 232.5 446.1 232.8 446.4 236.1 446.8 233.3 447.2 232.2 447.6 232 448 237 448.4 230.6 448.7 232.2 449.1 230.9 449.5 234.6 449.9 236 450.3 233.4 450.6 229.9 451 234.7 451.4 237.1 451.8 230.7 452.2 236.4 452.6 232.9 452.9 234.5 453.3 234.3 453.7 238.7 454.1 230.1 454.5 231.7 454.9 235.2 455.2 236.1 455.6 239.4 456 230.7 456.4 235.3 456.8 239.6 457.2 237.4 457.6 234.8 458 238.5 458.4 235.7 458.8 238.5 459.2 233.5 459.6 238 460 232.4 460.4 233 460.8 233.9 461.2 231.3 461.6 234.1 462 237.1 462.4 235.3 462.8 237.5 463.1 230.6 463.5 237.7 463.9 238.5 464.3 233.5 464.7 239.9 465.1 236.2 465.4 236.2 465.8 232.4 466.2 233.9 466.6 235.9 467 236.3 467.4 239 467.8 235.3 468.1 241.4 468.5 237.5 468.9 239.3 469.3 231.9 469.7 234.6 470 231.8 470.4 235.7 470.8 236.8 471.2 232.4 471.6 231.5 472 237.4 472.3 234.4 472.7 233.1 473.1 230.2 473.5 236.1 473.9 233.2 474.3 236.6 474.6 235.5 475 234 475.4 235.8 475.8 236.2 476.2 232.4 476.5 236.5 476.9 235.7 477.3 239.3 477.7 234 478.1 229.6 478.5 231 478.8 233.4 479.2 236.6 479.6 234.6 480 232.4 480.4 237.7 480.8 232.6 481.1 236.1 481.5 238.3 481.9 232.8 482.3 235.4 482.7 239.3 483 233.5 483.4 236.2 483.8 239.5 484.2 238.9 484.6 238.7 484.9 238.2 485.3 237.4 485.7 238.8 486.1 239.6 486.5 238.6 486.9 241.2 487.2 235.3 487.6 240.6 488 235.4 488.4 239.8 488.8 239.9 489.1 237 489.5 240.2 489.9 238.7 490.3 240.9 490.7 239.5 491.1 235.1 491.4 234.7 491.8 236.7 492.2 237.4 492.6 238 493 240.3 493.4 239 493.8 235.8 494.1 240.3 494.5 240.9 494.9 238.6 495.3 242.5 495.7 239.9 496.1 242.1 496.5 237.5 496.8 239.4 497.2 241.3 497.6 243.3 498 240.2 498.4 240 498.8 241.3 499.2 240.8 499.6 244.7 500 241 500.4 240.1 500.8 242 501.1 243.7 501.5 240.3 501.9 242.4 502.3 245.5 502.7 241.1 503.1 242.7 503.5 238.3 503.9 238.3 504.3 240.2 504.7 240 505.1 239.6 505.5 243.7 505.9 236.8 506.3 236.6 506.7 239.3 507.1 235.4 507.5 237.6 507.9 238.2 508.3 238 508.7 238.2 509 240.9 509.4 240.9 509.8 237.7 510.2 240.8 510.6 236 511 240.9 511.3 240.6 511.7 240 512.1 237.4 512.5 236.1 512.9 234.1 513.3 233.1 513.6 235.9 514 238.2 514.4 235.1 514.8 239.8 515.2 234.6 515.5 236.5 515.9 239.5 516.3 241.8 516.7 233.6 517.1 235.6 517.5 242.3 517.8 240.1 518.2 234.3 518.6 233.7 519 237.5 519.4 234 519.8 236.2 520.1 232.3 520.5 233.1 520.9 237.4 521.3 236.5 521.7 239.2 522 239.6 522.4 239 522.8 238.4 523.2 239.6 523.6 237.7 524 235.4 524.3 235.8 524.7 231.1 525.1 240.2 525.5 235.2 525.9 238.1 526.3 234.9 526.6 236.2 527 235.4 527.4 236.4 527.8 233.5 528.2 234.9 528.5 236.1 528.9 233.2 529.3 237.4 529.7 233.5 530.1 234 530.5 238.1 530.8 232.1 531.2 232.7 531.6 238.5 532 233.9 532.4 235.1 532.8 235.7 533.1 233.2 533.5 237.5 533.9 232.7 534.3 236.1 534.7 231.4 535.1 237.9 535.5 232 535.8 235.1 536.2 231.1 536.6 232.3 537 231.6 537.4 235.3 537.8 233.6 538.2 233 538.6 236.5 539 233.4 539.3 229.9 539.7 235.7 540.1 232.8 540.5 227.9 540.9 228.9 541.3 227 541.6 230.8 542 229 542.4 231.3 542.8 234.2 543.1 230.8 543.5 232.2 543.9 230.8 544.2 232.4 544.6 233.9 545 238 545.4 234.1 545.7 234.1 546.1 232.5 546.5 234.6 546.9 236.2 547.3 231.3 547.7 233 548 230.3 548.4 231 548.8 229.6 549.2 229.2 549.6 230.9 550 231.3 550.4 231.8 550.7 228 551.1 229.7 551.5 226.1 551.9 223.7 552.2 223.2 552.6 226.3 553 227.1 553.3 228.7 553.7 229.4 554.1 226.8 554.5 224 554.8 221.8 555.2 222.7 555.6 225.4 556 221.7 556.4 221.2 556.8 222.2 557.2 224.5 557.5 223.1 557.9 222.5 558.3 228 558.7 225.5 559.1 224.3 559.5 226.7 559.9 223.8 560.3 230.6 560.7 225.3 561 224.7 561.4 224.7 561.8 227.3 562.2 224.7 562.6 221.1 563 224 563.4 226.5 563.8 226.5 564.1 221.2 564.5 226.9 564.9 223.9 565.3 223 565.7 224.2 566.1 224.2 566.4 224.9 566.8 222 567.2 224.4 567.6 225 568 222.8 568.4 226.6 568.7 227.9 569.1 224.6 569.5 232.2 569.9 226.8 570.3 226.2 570.6 225.9 571 225.8 571.4 226.1 571.8 225 572.2 224.7 572.6 225.2 572.9 227.3 573.3 230.3 573.7 220.4 574.1 225.8 574.5 224.5 574.9 221.4 575.2 225.9 575.6 226.1 576 225.7 576.4 227 576.8 222.9 577.2 226.4 577.6 222.1 578 227.4 578.3 232.3 578.7 230.8 579.1 224.5 579.5 230.9 579.9 225.5 580.3 228.4 580.7 229.4 581.1 226.8 581.5 225.7 581.8 226 582.2 231 582.6 226.9 583 229.3 583.4 228 583.8 224.9 584.2 223 584.5 224.8 584.9 228.1 585.3 226.1 585.7 222.9 586 223.9 586.4 226.5 586.8 221.2 587.1 220.8 587.5 224.1 587.9 222.6 588.3 221.1 588.6 222.1 589 226.8 589.4 218.9 589.7 223.3 590.1 223.2 590.4 227 590.8 222.2 591.1 223.6 591.5 224.3 591.8 222.9 592.2 224.7 592.6 227.7 593 221.3 593.3 221.3 593.7 221.3 594.1 221.8 594.5 222.3 594.8 222 595.2 225 595.6 223 596 227.7 596.3 226.8 596.7 228.1 597.1 230.3 597.5 227.7 597.9 222 598.3 225.4 598.7 226.8 599.1 226.6 599.5 222 599.9 223.9 600.3 226.1 600.7 224.7 601.1 224.3 601.5 225.3 601.9 223.1 602.3 217.8 602.6 224.2 603 217.2 603.4 217.7 603.8 220.3 604.1 219.8 604.5 222 604.9 217.4 605.2 220.3 605.6 222.5 606 216.6 606.4 219.2 606.7 215 607.1 217.8 607.5 214 607.8 218.1 608.2 217.2 608.6 213.4 608.9 213.6 609.3 214.6 609.7 213.9 610 210.7 610.4 212.3 610.8 212.4 611.1 216.9 611.5 211.8 611.9 211.7 612.3 217.2 612.6 216.7 613 215.2 613.4 220.3 613.8 221.1 614.1 217.7 614.5 219.6 614.9 222.9 615.3 221.1 615.7 223 616.1 221.7 616.5 228.2 616.8 223.8 617.2 230.8 617.6 228.1 618 225.7 618.4 227.5 618.8 232.4 619.2 232.7 619.5 233.5 619.9 231.9 620.3 234.3 620.7 233.6 621 229.8 621.4 234.4 621.8 228.4 622.1 230 622.5 225.3 622.9 228.8 623.3 228.6 623.6 228.5 624 227.2 624.4 228.3 624.8 228.5 625.2 231.8 625.6 229.6 626 230.4 626.3 228.4 626.7 224.6 627.1 224.1 627.5 224 627.9 227.2 628.3 227.8 628.7 225.6 629 222.8 629.4 230 629.8 227.8 630.2 220.7 630.6 224.9 631 224.3 631.3 223.4 631.7 223.4 632.1 222.5 632.5 224.8 632.9 218.6 633.3 221.8 633.6 221.1 634 218.3 634.4 220.3 634.8 224.8 635.2 217.2 635.5 221.8 635.9 217.8 636.3 218.4 636.7 226.2 637.1 219.8 637.5 217.7 637.8 216.9 638.2 216.3 638.6 220.1 639 222.9 639.4 218.8 639.8 217.5 640.1 220.6 640.5 218.8 640.9 215.5 641.3 218.3 641.6 217.8 642 217 642.4 213.6 642.8 217.3 643.1 218 643.5 216.6 643.9 222.9 644.2 218.9 644.6 221.2 645 222.5 645.4 221.9 645.7 220.9 646.1 216.5 646.5 215.7 646.9 223.4 647.3 223 647.7 224.8 648.1 219.4 648.5 220.6 648.9 220 649.3 221.8 649.7 223.9 650.1 226 650.5 220.7 650.9 219.2 651.3 222.9 651.7 227.5 652.1 226.1 652.4 226.2 652.8 220 653.2 222.5 653.6 225.8 654 224.2 654.4 223.2 654.7 226.6 655.1 224.5 655.5 223.5 655.9 222.7 656.3 225.8 656.7 227.4 657 230.2 657.4 226.3 657.8 223.8 658.2 227 658.6 226.8 658.9 222.4 659.3 226.4 659.7 228 660.1 228.6 660.5 228 660.9 225 661.2 229.2 661.6 226.5 662 223.4 662.4 226.7 662.8 230.8 663.2 229.2 663.5 229.6 663.9 230 664.3 229.9 664.7 225.9 665.1 226.8 665.5 229.2 665.9 229.5 666.3 231.4 666.7 225.6 667.1 231.2 667.5 233.5 667.9 226.6 668.2 230.9 668.6 230.4 669 227.3 669.4 232.4 669.8 230 670.2 228.7 670.6 228.8 671 232.8 671.4 229.3 671.8 232.7" stroke="#0000ff" stroke-width="1.15" fill="none" stroke-linejoin="round"/>
<path d="M406.4 271.4v-2.6M406.4 203.5v2.6M456.3 271.4v-2.6M456.3 203.5v2.6M506.2 271.4v-2.6M506.2 203.5v2.6M556.1 271.4v-2.6M556.1 203.5v2.6M605.9 271.4v-2.6M605.9 203.5v2.6M655.8 271.4v-2.6M655.8 203.5v2.6M406.4 271.4h2.6M671.8 271.4h-2.6M406.4 237.4h2.6M671.8 237.4h-2.6M406.4 203.5h2.6M671.8 203.5h-2.6" stroke="#262626" stroke-width="1" fill="none"/>
<rect x="406.4" y="203.5" width="265.4" height="67.9" fill="none" stroke="#262626" stroke-width="1.1"/>
<text x="402.5" y="288.45">0</text>
<text x="446.35 454.19" y="288.45">0.</text><path d="M462.37 279.2V288.45M462.32 279.55L459.92 282.05" stroke="#000" stroke-width="1.4" fill="none"/>
<text x="496.23 504.07 508.3" y="288.45">0.2</text>
<text x="546.12 553.96 558.19" y="288.45">0.3</text>
<text x="596.01 603.85 608.08" y="288.45">0.4</text>
<text x="645.9 653.74 657.97" y="288.45">0.5</text>
<text x="374 382.31 390.15" y="276.65">−0.</text><path d="M398.35 267.4V276.65M398.3 267.75L395.9 270.25" stroke="#000" stroke-width="1.4" fill="none"/>
<text x="394.4" y="242.73">0</text>
<text x="382.31 390.15" y="208.8">0.</text><path d="M398.35 199.55V208.8M398.3 199.9L395.9 202.4" stroke="#000" stroke-width="1.4" fill="none"/>
<path d="M790.7 176.4V9.8M826.9 176.4V9.8M863.2 176.4V9.8M899.5 176.4V9.8M935.7 176.4V9.8M972 176.4V9.8M1008.3 176.4V9.8" stroke="#8c8c8c" stroke-width="1" stroke-dasharray="1.1 5.4" stroke-dashoffset="0.5" fill="none"/>
<path d="M754.4 134.8H1019.5M754.4 93.1H1019.5M754.4 51.5H1019.5" stroke="#8c8c8c" stroke-width="1" stroke-dasharray="1.1 5.35" stroke-dashoffset="4.2" fill="none"/>
<path d="M754.6 80.6 754.9 81.1 755.2 79.4 755.7 79.8 756.2 78.6 756.7 77.3 757.2 77 757.8 76.3 758.2 74.9 758.7 75.8 759.1 75.8 759.6 75.4 760.1 76.2 760.6 75.8 761.1 75 761.6 74.7 762 74.6 762.4 76.2 762.9 76.2 763.4 76.6 763.7 76.8 764.1 77.6 764.5 77.6 765 78.9 765.4 78.3 765.9 79.6 766.4 79.9 766.9 80.2 767.5 79.5 768 79.5 768.5 80.5 768.9 81.8 769.4 82.6 769.9 84.8 770.3 85.8 770.7 87.4 771.1 89.7 771.5 88.5 772 87.3 772.5 85.5 773 82.8 773.5 80.9 774 81.4 774.4 82.6 774.9 84.7 775.4 86.2 775.8 86.2 776.2 85.8 776.6 85.3 777.1 86.1 777.5 84.7 778 84.9 778.5 85.1 779 84.2 779.6 83.1 780.1 83.5 780.6 82.9 781 83.6 781.6 84.3 782 86 782.5 87.6 782.8 86 783.2 84.5 783.6 84.2 784 82.6 784.5 79.5 785.1 78.5 785.5 80 785.9 79.9 786.3 78.9 786.8 78.7 787.2 79.9 787.7 80.6 788.2 79.3 788.7 79.9 789.2 80.5 789.7 79.5 790.2 79.8 790.6 79 791.1 79.6 791.5 78.8 792 78.2 792.5 78.6 793 77.8 793.5 77.5 793.9 77.2 794.4 77.6 794.9 77.1 795.4 77.8 795.8 76.8 796.3 76.2 796.8 75.8 797.3 75.8 797.7 76.6 798.2 75.1 798.7 75.5 799.2 76 799.6 75.8 800.1 74.8 800.6 75.4 801 74.8 801.5 73.6 802 73.1 802.5 73 803 74.1 803.4 73.1 803.9 73.9 804.3 74 804.8 73.9 805.2 72.8 805.7 71.9 806.2 72.8 806.7 73.1 807.1 74.4 807.6 74.9 808.1 75.7 808.6 75.4 809.1 75.9 809.5 75 810 74.3 810.4 74.6 810.9 72.8 811.4 73.3 811.9 72.6 812.4 72.3 812.8 69.9 813.3 69.7 813.8 71 814.3 68.9 814.8 69.4 815.2 69.7 815.7 69.4 816.2 70.4 816.7 70.7 817.1 69.4 817.6 69.1 818.1 71 818.6 70.1 819 69.7 819.5 69.5 820 69.2 820.4 70.5 820.9 69.8 821.4 70.3 821.9 71.1 822.3 70.1 822.8 71 823.3 69 823.8 70.4 824.2 70.3 824.7 70.7 825.2 68.6 825.7 69.5 826.2 69.5 826.6 69.5 827.1 69.1 827.6 68.5 828.1 69.8 828.6 69.6 829 69.1 829.5 69.5 829.9 68.5 830.5 67.3 831 68.4 831.6 66.8 832.1 68 832.6 67.5 833 66.4 833.5 66.2 833.8 66.1 834.4 67.2 834.6 70.4 835 70.4 835.3 73.2 835.7 73.1 836.1 75.2 836.6 76.8 837.1 77.2 837.5 78.4 837.9 76.2 838.3 75.9 838.7 74.3 839.2 73.2 839.7 73.7 840.3 72.5 840.7 72.8 841.1 73.4 841.6 72.2 842 72.4 842.5 74.1 843 75.1 843.5 73.3 844 74.6 844.5 76.1 845 76 845.5 76.6 846 75.7 846.4 76.9 846.9 75 847.4 76 847.9 77 848.3 76.1 848.8 76.3 849.3 76.4 849.8 76.4 850.2 77.4 850.7 77.8 851.2 76.3 851.7 76.6 852.2 77.8 852.6 77.7 853.1 78 853.6 77.8 854.1 78.3 854.6 78.2 855 77.8 855.5 77 855.9 76.6 856.4 78.2 857 78.1 857.5 77.9 857.9 76.3 858.4 77.2 858.9 77.4 859.3 75.6 859.8 75.2 860.3 75.4 860.8 75.5 861.3 76.5 861.8 76.8 862.2 76.9 862.7 76.7 863.2 77.5 863.7 77.8 864.2 77.1 864.7 78.9 865.2 79.2 865.7 79 866.1 80.6 866.6 80.4 867.1 81.5 867.6 82.7 868.1 80.9 868.6 81.8 869.1 81.2 869.5 80.3 870 79.3 870.5 79.9 871 79.1 871.5 78.5 872 79.3 872.5 80.2 873 79.3 873.5 81.3 874 80.3 874.5 81.7 875 82 875.4 83.5 875.9 84.2 876.3 84.5 876.7 84.2 877.1 84.9 877.5 86.4 878 85.9 878.4 86.1 878.9 86 879.4 84.4 879.9 84.3 880.4 85 881 83.2 881.4 84.1 881.9 82.5 882.4 82.6 882.8 84.3 883.3 84.7 883.7 86.4 884.1 87.6 884.6 86.7 885 88 885.4 87.6 885.9 88.2 886.3 87.4 886.8 86.7 887.2 85.7 887.7 84.4 888.2 85 888.6 85.2 889.1 85.6 889.6 86.4 890.1 88.3 890.6 89.9 891.1 89.5 891.6 90.5 892.1 90.4 892.5 90.9 893 90.8 893.4 89.9 893.9 90.6 894.3 89.5 894.8 90 895.3 88.2 895.7 88.9 896.2 89.2 896.7 87.3 897.2 87.8 897.6 89.2 898.1 88.1 898.7 88.2 899.2 88.1 899.7 89.9 900.2 89.1 900.7 90.8 901.1 90.5 901.5 90.1 901.9 92.3 902.5 93.1 903 94.2 903.4 95.3 903.8 97 904.2 98.4 904.5 97 904.9 95.4 905.2 93.2 905.8 90.4 906.2 91.7 906.6 91.7 907.1 91.5 907.6 91.4 908.1 93.2 908.7 93.9 909.2 94.4 909.7 95.1 910.2 94.5 910.6 95.2 911.1 94.3 911.6 92.9 912 94.1 912.5 92.4 913.1 93.9 913.6 94.1 914 92.9 914.5 93.4 915 95.1 915.4 95.3 915.9 95.9 916.5 97.5 917 97.3 917.4 97.6 917.9 99.1 918.4 100.3 918.8 100.7 919.3 98.9 919.8 100.1 920.3 98.8 920.7 99.7 921.2 97.9 921.7 96.8 922.2 96.9 922.7 97.1 923.1 96.4 923.6 97.8 924 97 924.5 98.1 925 97.2 925.5 98 926 98.6 926.4 97.9 926.9 98.2 927.4 99.6 927.9 98.8 928.4 98.7 928.9 99.3 929.4 99.4 929.8 99.7 930.3 99 930.8 99.5 931.3 99.6 931.8 99.6 932.2 99.6 932.7 99.2 933.1 99.4 933.7 99.2 934.2 99.2 934.7 101.7 935.1 101.4 935.6 102 936.1 103.3 936.5 104.3 937 104.9 937.5 103.6 938 105.2 938.5 105.5 938.9 105.5 939.4 105.3 939.9 104.4 940.3 105.1 940.8 104.4 941.3 105 941.8 105.3 942.3 103.9 942.8 103.4 943.3 104.9 943.7 105.5 944.1 105.8 944.7 105.8 945.1 107.1 945.5 107.8 946 110.8 946.4 110.3 946.8 110.9 947.2 111.7 947.6 114.4 948.1 114 948.6 115.6 949 114.6 949.5 116 950 117.1 950.5 117.7 951.1 116.9 951.6 118 952.1 119.2 952.5 119.9 953 118.7 953.5 120.3 953.9 121.5 954.3 121.4 954.7 122.3 955.1 121.9 955.6 123.6 956.1 124 956.6 127 957.1 127 957.5 125.9 957.9 126.7 958.3 124 958.8 122.6 959.2 123.2 959.7 121.4 960.1 122.7 960.6 121.7 961 121.9 961.4 124 961.9 124.3 962.4 125.2 962.9 126.1 963.4 126.8 963.9 126.5 964.4 128.1 964.9 129.5 965.4 131.1 965.9 131.7 966.4 132.4 966.8 134.1 967.3 135.5 967.7 135.8 968.1 137.2 968.5 138.1 968.9 141 969.4 139.9 969.8 140.4 970.3 139.6 970.8 138.8 971.3 138.2 971.8 136.4 972.3 134.2 972.8 133.8 973.3 132.7 973.8 132.9 974.3 133.7 974.8 133.7 975.2 134.1 975.7 135.1 976.1 135.9 976.6 134.8 977.1 136.4 977.5 137 978 136.6 978.5 139.6 978.9 139.1 979.4 140.4 979.8 139.9 980.3 140.6 980.7 140 981.1 141.7 981.5 139.5 981.9 139.2 982.4 140.4 982.8 139.8 983.3 139 983.8 140 984.3 139.1 984.8 138.2 985.3 138.4 985.8 138.6 986.3 138.1 986.8 136.7 987.3 137.4 987.8 136 988.3 136.2 988.8 137.3 989.3 136.5 989.7 135.5 990.2 135.4 990.7 134.6 991.1 134.4 991.5 133.2 992 132.3 992.4 131.4 992.9 131.6 993.4 130.8 993.8 129.1 994.2 129.2 994.7 130 995.2 129.3 995.7 128.8 996.1 128.6 996.6 127.3 997.1 127.8 997.6 127.9 998 126.8 998.5 126.1 999 125.4 999.5 125.1 1000 123.5 1000.5 124 1000.9 121.5 1001.4 122.3 1001.9 121.1 1002.4 119.8 1002.9 119.1 1003.3 118.5 1003.8 117.7 1004.3 118.9 1004.8 116.7 1005.3 115.6 1005.8 116.1 1006.3 116.2 1006.7 114 1007.2 113.2 1007.7 113.2 1008.1 111.9 1008.6 111.5 1009.1 111 1009.5 111.3 1010 109.2 1010.5 108.5 1011 108.5 1011.5 107.5 1012 107.5 1012.5 105.8 1013 105.6 1013.5 104.6 1014 104.2 1014.5 103.4 1015.1 102 1015.6 101.4 1016.2 101.4 1016.7 102.2 1017.2 100.6 1017.6 100.1 1018 99.6 1018.7 99.5 1019.2 98 1019.5 97.8" stroke="#0000ff" stroke-width="1.4" fill="none" stroke-linejoin="round"/>
<path d="M754.6 91.1 755.6 87.9 757.2 84 758.5 81.8 760 79.8 761.7 78.8 763 79 764.4 79.9 766 81 767.6 82 768.8 82.6 770.1 83.2 771.4 83.8 772.7 84.4 774.1 84.8 775.4 85 776.7 85 778 84.7 779.3 84.4 780.6 83.9 781.9 83.3 783.2 82.7 784.5 82 785.7 81.2 786.9 80.4 788.2 79.4 789.5 78.5 791 77.5 792.4 76.6 793.9 75.6 795.5 74.6 797.1 73.5 798.6 72.6 800.1 71.7 801.4 71 802.9 70.4 804.1 70 805.2 69.8 806.4 69.5 807.8 69 809 68.4 810.2 67.7 811.6 66.9 812.9 66.1 814.3 65.4 815.6 64.8 816.9 64.5 818.3 64.5 819.7 64.7 821.1 65.2 822.4 65.7 823.6 66.1 824.7 66.4 826.3 66.6 827.6 66.7 829 66.4 830.2 65.8 831.5 64.9 832.9 64.1 834.5 63.8 835.7 64 837.1 64.5 838.6 65.2 840 65.9 841.5 66.6 842.9 67.1 844.3 67.5 845.7 67.8 847.1 68 848.4 68.2 849.6 68.3 850.7 68.4 852.1 68.1 853.2 67.7 854.6 67.7 855.7 68.1 857 68.6 858.3 69.3 859.8 70 861.1 70.8 862.4 71.6 863.8 72.6 865 73.6 866.3 74.8 867.5 75.8 868.9 76.8 870.1 77.5 871.4 78.3 872.7 79 874 79.6 875.4 80.2 876.7 80.7 878.1 81.1 879.5 81.4 880.9 81.7 882.3 81.9 883.7 82.2 885 82.5 886.4 83 887.7 83.6 889 84.2 890.2 84.8 891.5 85.4 892.8 86 894 86.5 895.2 87 896.5 87.5 898 88 899.2 88.3 900.6 88.5 902 88.7 903.4 88.9 904.8 89.1 906.1 89.5 907.1 89.9 908.6 91.5 909.6 93.4 911 95.1 912.1 95.7 913.3 96.1 914.6 96.5 916 96.9 917.4 97.3 918.8 97.7 920.1 98.1 921.4 98.6 922.7 99 924.1 99.5 925.5 99.9 926.7 100.5 927.9 101 929.4 101.8 930.8 102.7 932.1 103.6 933.3 104.6 934.4 105.5 935.9 107.1 937.1 108.6 938.2 110 939.4 111.4 940.8 112.7 941.9 113.7 943.2 114.7 944.5 115.9 946 117.1 947.2 118.1 948.6 119.1 949.9 120.1 951.3 121.2 952.5 122.3 953.9 123.7 955.2 125.2 956.4 126.7 957.7 128.2 959 129.8 960.2 131.5 961.5 133.2 962.9 134.7 964.1 135.7 965.3 136.7 966.6 137.5 967.9 138.4 969.4 139.2 970.6 139.8 971.8 140.4 973.2 141 974.6 141.6 975.9 142.2 977.2 142.7 978.5 143.1 979.9 143.5 981.3 143.7 982.6 144 983.9 144.1 985.1 144.2 986.3 144.4 987.9 144.7 989.4 145.1 990.8 145.3 992.1 145.1 993.4 144.5 994.5 143.7 995.6 142.6 996.7 141.2 998.1 139 999.3 136.4 1000.6 133.4 1001.9 129.6 1003.1 125.4 1004.5 121.7 1005.7 119.6 1007 117.9 1008.4 116.4 1009.7 115 1011 113.7 1012.4 112.5 1013.7 111.3 1014.9 110 1016.1 107.8 1017.2 105.4 1018 103.6 1019.5 102" stroke="#128a12" stroke-width="1.35" fill="none" stroke-linejoin="round"/>
<path d="M754.4 176.4v-2.6M754.4 9.8v2.6M790.7 176.4v-2.6M790.7 9.8v2.6M826.9 176.4v-2.6M826.9 9.8v2.6M863.2 176.4v-2.6M863.2 9.8v2.6M899.5 176.4v-2.6M899.5 9.8v2.6M935.7 176.4v-2.6M935.7 9.8v2.6M972 176.4v-2.6M972 9.8v2.6M1008.3 176.4v-2.6M1008.3 9.8v2.6M754.4 176.4h2.6M1019.5 176.4h-2.6M754.4 134.8h2.6M1019.5 134.8h-2.6M754.4 93.1h2.6M1019.5 93.1h-2.6M754.4 51.5h2.6M1019.5 51.5h-2.6M754.4 9.8h2.6M1019.5 9.8h-2.6" stroke="#262626" stroke-width="1" fill="none"/>
<rect x="754.4" y="9.8" width="265.1" height="166.6" fill="none" stroke="#262626" stroke-width="1.1"/>
<text x="750.5" y="193.55">0</text>
<text x="780.73 788.57" y="193.55">0.</text><path d="M796.75 184.3V193.55M796.7 184.65L794.3 187.15" stroke="#000" stroke-width="1.4" fill="none"/>
<text x="816.99 824.83 829.06" y="193.55">0.2</text>
<text x="853.26 861.1 865.33" y="193.55">0.3</text>
<text x="889.52 897.36 901.59" y="193.55">0.4</text>
<text x="925.79 933.63 937.86" y="193.55">0.5</text>
<text x="962.05 969.89 974.12" y="193.55">0.6</text>
<text x="998.32 1006.16 1010.39" y="193.55">0.7</text>
<text x="722 730.31 738.15 742.4" y="181.75">−0.2</text>
<text x="722 730.31 738.15" y="140.1">−0.</text><path d="M746.35 130.85V140.1M746.3 131.2L743.9 133.7" stroke="#000" stroke-width="1.4" fill="none"/>
<text x="742.4" y="98.45">0</text>
<text x="730.31 738.15" y="56.8">0.</text><path d="M746.35 47.55V56.8M746.3 47.9L743.9 50.4" stroke="#000" stroke-width="1.4" fill="none"/>
<text x="730.31 738.15 742.4" y="15.15">0.2</text>
<path d="M790.7 271.4V203.5M826.9 271.4V203.5M863.2 271.4V203.5M899.5 271.4V203.5M935.7 271.4V203.5M972 271.4V203.5M1008.3 271.4V203.5" stroke="#8c8c8c" stroke-width="1" stroke-dasharray="1.1 5.4" stroke-dashoffset="0.5" fill="none"/>
<path d="M754.4 237.4H1019.5" stroke="#8c8c8c" stroke-width="1" stroke-dasharray="1.1 5.35" stroke-dashoffset="4.2" fill="none"/>
<path d="M754.6 229.4 754.9 229.3 755.3 229.1 755.8 228.9 756.3 230.3 756.8 231.4 757.2 230.5 757.6 232.3 757.9 231.5 758.5 233.4 758.9 232.9 759.3 233.7 759.8 234.1 760.3 234.8 760.8 234.2 761.4 235.1 761.9 234.1 762.4 233.8 762.9 234.7 763.4 235.4 763.9 235.6 764.4 234.3 764.9 235 765.4 235.2 765.9 235.8 766.3 236.7 766.8 235.3 767.3 234.5 767.7 236.1 768.2 235.8 768.6 235.5 769 234.3 769.5 236.1 770 237.9 770.6 241.7 771 241.7 771.5 242.3 772 241 772.5 239.2 772.9 234.8 773.4 235.1 773.9 234.7 774.4 238.1 774.9 239.8 775.4 241.3 775.9 241.8 776.4 240 776.8 236 777.3 235 777.8 234.5 778.3 235.7 778.8 237.2 779.3 238 779.8 237.8 780.2 236.5 780.7 235.3 781.2 236.1 781.7 236.9 782.2 238.8 782.7 242.1 783.2 242 783.6 239.7 784 239.7 784.4 237.5 785.1 235.1 785.5 236.3 785.9 234.6 786.3 236.7 786.8 235.5 787.3 237.6 787.8 237.7 788.3 238.9 788.8 238 789.3 239.2 789.7 240.2 790.2 238.7 790.7 239.1 791.2 240.1 791.7 239.4 792.2 239.3 792.6 239.4 793.1 240.1 793.6 240.8 794.1 240.4 794.6 240.5 795.1 239 795.5 238.9 796 239.7 796.5 238.6 797 238.1 797.5 238.2 798 239.7 798.5 240.7 799 240.1 799.5 239.5 799.9 240.3 800.4 241.8 800.9 242.3 801.4 241.2 801.9 241.7 802.4 240.5 802.8 241.2 803.3 241.3 803.8 240.4 804.2 240.7 804.7 239.2 805.2 240.2 805.7 239.9 806.2 240.6 806.7 239.9 807.1 241.3 807.6 242.2 808.1 241.9 808.6 243 809.1 242 809.6 243 810.1 244.1 810.6 243.3 811.1 242.8 811.6 243.3 812.1 242.7 812.6 242 813 241.5 813.5 242.3 814 241.3 814.5 240.8 814.9 240.3 815.3 239.7 815.6 239.8 816.1 241.9 816.4 243.5 816.9 245 817.3 244.1 817.7 243.5 818.1 243.2 818.6 241.7 819.1 242.6 819.5 241.3 819.9 240.1 820.3 240.2 820.7 240.6 821.1 240.6 821.6 239.8 822.1 240 822.5 239.8 823 238.9 823.5 239.1 824 239.3 824.5 238.6 825 239.9 825.5 239.9 826 240.4 826.5 239.4 827 240.8 827.5 240.1 828 239.7 828.4 238.8 828.9 240.2 829.4 239.6 829.9 239.5 830.4 238.5 830.9 238.4 831.4 238.4 831.9 239.9 832.4 238.9 832.9 239.6 833.4 239.8 833.8 240.5 834.3 240.4 834.8 241.7 835.2 245 835.6 244.9 836 248 836.4 247.4 836.8 246.5 837.3 246.4 837.7 246.5 838.1 244.6 838.6 243 839 242.2 839.4 241.8 839.8 242.7 840.2 242.1 840.6 242.8 841.1 241.6 841.6 241.9 842 242.5 842.5 242.1 843 243 843.5 242.2 844 243.4 844.5 243.3 845 242.8 845.5 243.5 846 242.8 846.5 244 847 243.5 847.5 242.5 848 243.7 848.5 243.2 848.9 243.8 849.4 243.6 849.9 244.3 850.4 244 850.8 244.1 851.3 245.6 851.7 246.6 852.1 246.1 852.6 246.8 853.1 246.6 853.6 246 854 245.5 854.5 246.2 855 245 855.5 245.2 855.9 245.6 856.4 244.2 856.8 243.6 857.2 244.1 857.6 242.5 858 241.7 858.5 240.4 858.9 241.4 859.4 240.3 859.9 240.8 860.4 241.2 860.9 240.8 861.4 239.4 861.9 240.8 862.4 240.2 862.9 239 863.4 238.6 864 239 864.5 239.7 865 239.5 865.5 238.4 865.9 240.6 866.3 238.8 866.9 241.7 867.2 242.5 867.6 243.8 867.9 243.3 868.3 242.2 868.7 240.4 869.2 239.6 869.7 237.9 870.2 237.4 870.6 236.6 871.1 237.2 871.6 238.4 872.1 238 872.7 236.7 873.2 237.4 873.7 237.7 874.1 238 874.6 238 875.1 238.7 875.5 237.3 875.9 238.4 876.3 238.6 876.7 237.4 877.2 238.5 877.6 239.5 878 241.6 878.6 242.6 879 242.5 879.5 242.1 880 240.9 880.5 240.5 881 240.1 881.5 238.9 881.9 239.2 882.4 238.7 882.8 239.7 883.2 240.6 883.6 242.6 884 241.6 884.5 242.4 884.9 241.2 885.3 240.8 885.8 241.2 886.3 240.6 886.7 239.8 887.2 240.2 887.7 238.6 888.2 238.8 888.7 239.5 889.1 238.2 889.6 240.2 890 239.5 890.5 241.8 891 242.1 891.5 242.5 892.1 242.8 892.5 240.9 893 240.7 893.5 241.1 894 239.8 894.5 241.2 895 239 895.6 238.6 896.1 239.2 896.6 237.3 897.1 238.5 897.6 237.1 898 237.3 898.6 237.8 899.1 236.1 899.7 236.6 900.2 237 900.6 238 901.1 237.3 901.5 238 901.9 237.9 902.4 239.4 902.9 239.9 903.4 241.5 903.8 241 904.2 242.9 904.5 244.1 905 238.4 905.3 238.2 905.8 239.3 906.3 237.9 906.8 238.7 907.4 238.5 908 238 908.5 238.3 909 239.2 909.5 238.4 910 237.1 910.5 237.3 910.9 237.6 911.4 235.3 911.8 236.1 912.3 234.5 912.8 234.6 913.2 234.3 913.7 235.4 914.1 235.6 914.6 235.9 915 235.9 915.5 236.1 916 235.5 916.4 236.1 916.9 236.3 917.3 238.7 917.8 237.2 918.3 239.2 918.8 238.2 919.2 239.2 919.7 238 920.1 238.8 920.5 237.9 921 237.6 921.5 235.5 922.1 236.6 922.7 234.9 923.1 236 923.6 235.5 924 234.9 924.6 235.6 925.1 235.2 925.6 235.5 926.1 235.9 926.7 234.7 927.2 235.5 927.7 235.4 928.2 236.4 928.7 236.4 929.2 234.8 929.7 234.8 930.3 234.8 930.8 234.2 931.3 235.3 931.8 234.9 932.3 233.1 932.8 234.2 933.2 234 933.6 233.8 934 232.6 934.4 231.6 935 233.1 935.4 232.2 935.7 233.6 936 232.5 936.5 233.6 937 232.4 937.4 233.3 937.8 232.2 938.3 231.4 938.8 232.6 939.3 231.9 939.8 231.2 940.3 230 940.8 229.7 941.3 229.6 941.7 228.5 942.1 229.2 942.7 227.5 943.1 227.3 943.5 227.4 943.8 227.8 944.2 228.1 944.7 228.6 945.1 228.6 945.6 228.8 946.1 230.4 946.6 230.4 947.1 231 947.6 231.1 948.1 232.8 948.6 231.7 949.1 233.6 949.6 233.5 950.1 234.3 950.5 233.9 951 233.2 951.5 233.6 952 232.9 952.5 232.9 953 234.5 953.5 233.7 954 234.8 954.5 233.6 955 234.2 955.5 236.1 955.9 235.7 956.4 235.8 956.9 235.1 957.4 233.3 957.9 233 958.3 232 958.8 231 959.2 231.1 959.7 229.3 960.2 229.5 960.6 229.2 961.1 228 961.6 229.9 962 228.9 962.5 230.2 962.9 230.2 963.4 229.2 963.8 230.2 964.2 230.7 964.6 231.3 965 230.8 965.5 231.3 965.9 232 966.4 233.2 966.9 235.5 967.4 235.3 967.9 236.8 968.4 238.3 968.9 237 969.4 237.7 969.9 238.6 970.4 236.7 970.9 236.7 971.4 235.6 971.9 234.9 972.4 231.9 972.8 231.6 973.3 232.2 973.8 230.7 974.3 230.3 974.8 231.6 975.2 230.5 975.7 231.8 976.1 232.4 976.6 232.6 977.1 232.8 977.5 232.4 978 233.6 978.5 234.2 978.9 234.1 979.4 235.6 979.8 236.2 980.3 236.4 980.7 235.5 981.1 235.8 981.5 236.2 981.9 235 982.4 234.4 982.8 233.9 983.3 233 983.8 234.3 984.3 234.2 984.8 232.7 985.3 232.8 985.8 232.6 986.3 230.4 986.8 230.8 987.3 231 987.8 230.9 988.3 229.7 988.8 230.2 989.3 229.7 989.7 228.8 990.2 229.9 990.7 229.4 991.1 229.1 991.5 227.6 992 227.1 992.4 226.1 992.9 224.5 993.4 224.5 993.8 224.2 994.2 225.1 994.7 226 995.2 225.7 995.7 225 996.1 225.5 996.6 227.3 997.1 227.6 997.6 227.9 998 227.6 998.5 227.9 999 229.4 999.5 228.8 1000 229.6 1000.5 230.7 1000.9 229.7 1001.4 231.6 1001.9 230.8 1002.4 232.6 1002.9 232.8 1003.4 233.1 1003.8 233.9 1004.3 234.3 1004.8 234.3 1005.3 233.1 1005.8 234.7 1006.3 233.2 1006.8 233.4 1007.3 234.7 1007.8 233.5 1008.2 234.3 1008.7 232.9 1009.2 232.5 1009.7 232.3 1010.2 234.1 1010.7 234 1011.2 234.2 1011.7 233.2 1012.1 233.8 1012.6 232.9 1013.1 232.5 1013.6 232.7 1014.1 233.5 1014.6 233.6 1015.1 232.8 1015.7 233.9 1016.2 233.8 1016.7 233.3 1017.1 233.5 1017.5 234.3 1018.2 235.8 1018.7 235.4 1019.2 234.5 1019.5 235.2" stroke="#0000ff" stroke-width="1.4" fill="none" stroke-linejoin="round"/>
<path d="M754.4 271.4v-2.6M754.4 203.5v2.6M790.7 271.4v-2.6M790.7 203.5v2.6M826.9 271.4v-2.6M826.9 203.5v2.6M863.2 271.4v-2.6M863.2 203.5v2.6M899.5 271.4v-2.6M899.5 203.5v2.6M935.7 271.4v-2.6M935.7 203.5v2.6M972 271.4v-2.6M972 203.5v2.6M1008.3 271.4v-2.6M1008.3 203.5v2.6M754.4 271.4h2.6M1019.5 271.4h-2.6M754.4 237.4h2.6M1019.5 237.4h-2.6M754.4 203.5h2.6M1019.5 203.5h-2.6" stroke="#262626" stroke-width="1" fill="none"/>
<rect x="754.4" y="203.5" width="265.1" height="67.9" fill="none" stroke="#262626" stroke-width="1.1"/>
<text x="750.5" y="288.45">0</text>
<text x="780.73 788.57" y="288.45">0.</text><path d="M796.75 279.2V288.45M796.7 279.55L794.3 282.05" stroke="#000" stroke-width="1.4" fill="none"/>
<text x="816.99 824.83 829.06" y="288.45">0.2</text>
<text x="853.26 861.1 865.33" y="288.45">0.3</text>
<text x="889.52 897.36 901.59" y="288.45">0.4</text>
<text x="925.79 933.63 937.86" y="288.45">0.5</text>
<text x="962.05 969.89 974.12" y="288.45">0.6</text>
<text x="998.32 1006.16 1010.39" y="288.45">0.7</text>
<text x="722 730.31 738.15" y="276.65">−0.</text><path d="M746.35 267.4V276.65M746.3 267.75L743.9 270.25" stroke="#000" stroke-width="1.4" fill="none"/>
<text x="742.4" y="242.73">0</text>
<text x="730.31 738.15" y="208.8">0.</text><path d="M746.35 199.55V208.8M746.3 199.9L743.9 202.4" stroke="#000" stroke-width="1.4" fill="none"/>
</g>
<path d="M58.9 62.8 59.1 67.8 59.3 61.7 59.5 65 59.7 60 59.9 58.1 60.1 65.4 60.3 63.9 60.5 56 60.6 58.7 60.8 57.8 61 61.4 61.2 57.8 61.4 55.6 61.6 59.4 61.8 58.5 62 58.4 62.2 59.2 62.4 54.1 62.6 55.1 62.8 57.4 63 56.9 63.2 60.7 63.4 61.1 63.6 53.3 63.8 52.8 64 61 64.2 61.2 64.4 60.1 64.6 59.3 64.8 53.2 65 52 65.2 53.2 65.4 52.8 65.6 58.4 65.8 56.4 66 57.1 66.2 57.6 66.4 52.1 66.6 52.9 66.8 50.5 67 55.3 67.2 52.4 67.4 50.8 67.6 56.7 67.8 52 68 56.1 68.1 52.4 68.3 56.1 68.5 54.5 68.7 52.5 68.9 56.5 69.1 51.4 69.3 50.4 69.5 48.8 69.7 50.7 69.9 49.6 70.1 53.5 70.3 48.3 70.5 51.2 70.7 54.1 70.9 52 71.1 51.6 71.3 51.3 71.5 51.7 71.7 47 71.9 48.5 72.1 50.4 72.3 51.9 72.5 45.6 72.7 48.6 72.9 46.6 73.1 48.8 73.3 48 73.5 44.5 73.7 45.7 73.9 45.2 74.1 49.6 74.3 45.2 74.5 49.3 74.7 46.1 74.9 46.9 75.1 48.5 75.3 44.3 75.5 44.2 75.7 43.8 75.8 46.1 76 43 76.2 45.5 76.4 42.9 76.6 46.4 76.8 44.1 77 47.3 77.2 41.7 77.4 46.5 77.6 42.9 77.8 44.5 78 46.8 78.2 47.2 78.4 44.9 78.6 46 78.8 43.5 79 43.6" fill="none" stroke="#0000ff" stroke-width="1.25" stroke-linejoin="round"/>
<path d="M58.9 221 59.1 223 59.3 219.5 59.5 223.5 59.7 221.7 59.9 222.8 60 222.3 60.2 226.1 60.4 227.4 60.6 227.7 60.8 225.4 61 228.7 61.2 229.3 61.4 227.4 61.6 223.8 61.8 224.9 62 225.1 62.2 228.4 62.4 228.9 62.5 229.1 62.7 227.3 62.9 228.6 63.1 227.3 63.3 225.7 63.5 224.3 63.7 227.3 63.9 226.1 64.1 225.6 64.3 228.4 64.5 225.5 64.7 231.4 64.9 228.1 65.1 226.8 65.2 228.6 65.4 231 65.6 230.4 65.8 225.3 66 229.2 66.2 225.6 66.4 227.1 66.6 228.4 66.8 228.5 67 231 67.2 228.6 67.4 226.8 67.6 225.3 67.8 231.6 68 227.8 68.2 232.5 68.4 225.5 68.6 229.9 68.8 230.1 69 226.6 69.2 230.9 69.4 229 69.6 230.5 69.8 232.3 70 230.2 70.2 230.3 70.4 228.7 70.6 230.9 70.8 228.4 71 227.7 71.2 231 71.4 229.2 71.6 229.1 71.8 228.3 72 226.6 72.2 230.7 72.4 228.1 72.6 227.1 72.8 228.5 73 227.3 73.2 231.2 73.4 226.6 73.6 226.6 73.8 228.3 74 228.6 74.2 228.5 74.4 226.5 74.6 228.3 74.8 230.6 74.9 230.3 75.1 228 75.3 229.5 75.5 227.4 75.7 229.5 75.9 227.3 76.1 231.5 76.3 226.5 76.5 229.1 76.7 230.3 76.9 228 77.1 231.6 77.3 228.7 77.5 227.8 77.7 230.2 77.9 228.7 78.1 227.6" fill="none" stroke="#0000ff" stroke-width="1.25" stroke-linejoin="round"/>
<path d="M591.6 100L592.3 137.2L593.5 137.5L594.2 102M591.9 224L592.5 253.3L593.5 253.6L594.1 226M431.2 80L431.9 89.5L432.6 80M431.2 240L431.9 250.5L432.6 240" stroke="#0000ff" stroke-width="1.3" fill="none" stroke-linejoin="round"/>
<rect x="147.5" y="16.9" width="168.8" height="22.2" fill="#fff" stroke="#262626" stroke-width="1.1"/>
<path d="M155.8 27.75H196.5" stroke="#0000ff" stroke-width="1.3" stroke-opacity="0.7"/>
<path d="M243 27.75H283.4" stroke="#008000" stroke-width="1.3" stroke-opacity="0.7"/>
<rect x="495.5" y="16.9" width="168.8" height="22.2" fill="#fff" stroke="#262626" stroke-width="1.1"/>
<path d="M503.8 27.75H544.5" stroke="#0000ff" stroke-width="1.3" stroke-opacity="0.7"/>
<path d="M591 27.75H631.4" stroke="#008000" stroke-width="1.3" stroke-opacity="0.7"/>
<rect x="843.5" y="16.9" width="168.8" height="22.2" fill="#fff" stroke="#262626" stroke-width="1.1"/>
<path d="M851.8 27.75H892.5" stroke="#0000ff" stroke-width="1.3" stroke-opacity="0.7"/>
<path d="M939 27.75H979.4" stroke="#008000" stroke-width="1.3" stroke-opacity="0.7"/>
<g font-family='"Liberation Serif", serif' fill="#000" color="#000">
<text transform="matrix(1.56800 0 0 1.40000 201.03 30.52)" font-size="10" font-style="italic">F</text>
<text transform="matrix(1.09091 0 0 0.93130 211.36 32.05)" font-size="10" font-style="italic" stroke="currentColor" stroke-width="0.138">E</text>
<text transform="matrix(1.25843 0 0 0.87912 219.48 32.05)" font-size="10" font-style="italic" stroke="currentColor" stroke-width="0.131">x</text>
<text transform="matrix(0.92453 0 0 0.94118 227.20 32.47)" font-size="10" font-style="italic" stroke="currentColor" stroke-width="0.150">p</text>
<text transform="matrix(1.58400 0 0 1.41538 288.53 31.42)" font-size="10" font-style="italic">F</text>
<text transform="matrix(1.03497 0 0 1.00763 298.35 33.35)" font-size="10" font-style="italic" stroke="currentColor" stroke-width="0.137">D</text>
<g fill="#303030" color="#303030">
<text transform="matrix(1.68000 0 0 1.52632 152.89 307.70)" font-size="10" font-style="italic">t</text>
<text transform="matrix(2.00000 0 0 1.48000 162.15 309.78)" font-size="10" font-style="normal">=</text>
<text transform="matrix(1.13725 0 0 1.50000 179.34 308.30)" font-size="10" font-style="normal">(</text>
<text transform="matrix(1.44000 0 0 1.52632 183.50 307.70)" font-size="10" font-style="italic">t</text>
<text transform="matrix(1.11538 0 0 1.60000 187.96 307.70)" font-size="10" font-style="normal">-</text>
<text transform="matrix(1.80000 0 0 1.52632 191.24 307.70)" font-size="10" font-style="italic">t</text>
<text transform="matrix(1.21429 0 0 0.84444 197.06 310.17)" font-size="10" font-style="normal">0</text>
<text transform="matrix(1.11538 0 0 1.50000 205.12 308.30)" font-size="10" font-style="normal">)</text>
<text transform="matrix(2.07273 0 0 1.98496 209.95 310.95)" font-size="10" font-style="normal">/</text>
<text transform="matrix(1.70909 0 0 1.38462 216.14 307.55)" font-size="10" font-style="italic">T</text>
<text transform="matrix(0 -1.55200 1.44615 0 14.82 114.77)" font-size="10" font-style="italic">F</text>
<text transform="matrix(0 -1.85455 2.16541 0 18.43 104.45)" font-size="10" font-style="normal">/</text>
<text transform="matrix(0 -1.44000 1.44615 0 14.72 96.68)" font-size="10" font-style="italic">F</text>
<text transform="matrix(0 -0.82581 0.97710 0 16.45 86.57)" font-size="10" font-style="italic" stroke="currentColor" stroke-width="0.155">H</text>
<text transform="matrix(0 -1.34737 0.95522 0 16.75 79.28)" font-size="10" font-style="italic" stroke="currentColor" stroke-width="0.122">S</text>
<text transform="matrix(0 -1.21569 1.62222 0 14.84 287.90)" font-size="10" font-style="normal">(</text>
<text transform="matrix(0 -1.55200 1.53846 0 15.03 282.27)" font-size="10" font-style="italic">F</text>
<text transform="matrix(0 -1.12397 1.09924 0 17.05 272.34)" font-size="10" font-style="italic" stroke="currentColor" stroke-width="0.126">E</text>
<text transform="matrix(0 -1.12360 0.94505 0 16.65 263.24)" font-size="10" font-style="italic" stroke="currentColor" stroke-width="0.135">x</text>
<text transform="matrix(0 -0.96226 1.04412 0 16.46 255.87)" font-size="10" font-style="italic" stroke="currentColor" stroke-width="0.140">p</text>
<text transform="matrix(0 -1.42308 1.86667 0 15.83 252.10)" font-size="10" font-style="normal">-</text>
<text transform="matrix(0 -1.55200 1.47692 0 14.62 245.97)" font-size="10" font-style="italic">F</text>
<text transform="matrix(0 -0.93706 0.97710 0 16.65 235.76)" font-size="10" font-style="italic" stroke="currentColor" stroke-width="0.146">D</text>
<text transform="matrix(0 -1.15385 1.53333 0 14.63 226.70)" font-size="10" font-style="normal">)</text>
<text transform="matrix(0 -2.00000 2.07519 0 17.64 220.95)" font-size="10" font-style="normal">/</text>
<text transform="matrix(0 -1.56800 1.47692 0 14.62 213.67)" font-size="10" font-style="italic">F</text>
<text transform="matrix(0 -0.92903 1.03817 0 16.65 203.46)" font-size="10" font-style="italic" stroke="currentColor" stroke-width="0.142">H</text>
<text transform="matrix(0 -1.32632 1.07463 0 16.54 195.38)" font-size="10" font-style="italic" stroke="currentColor" stroke-width="0.117">S</text>
</g>
<path d="M155.3 298L157.2 295.8L159.1 298" stroke="#303030" stroke-width="0.8" fill="none"/>
<text x="162.3" y="354" text-anchor="middle" font-size="21.5">(a)</text>
<text transform="matrix(1.56800 0 0 1.40000 549.03 30.52)" font-size="10" font-style="italic">F</text>
<text transform="matrix(1.09091 0 0 0.93130 559.36 32.05)" font-size="10" font-style="italic" stroke="currentColor" stroke-width="0.138">E</text>
<text transform="matrix(1.25843 0 0 0.87912 567.48 32.05)" font-size="10" font-style="italic" stroke="currentColor" stroke-width="0.131">x</text>
<text transform="matrix(0.92453 0 0 0.94118 575.20 32.47)" font-size="10" font-style="italic" stroke="currentColor" stroke-width="0.150">p</text>
<text transform="matrix(1.58400 0 0 1.41538 636.53 31.42)" font-size="10" font-style="italic">F</text>
<text transform="matrix(1.03497 0 0 1.00763 646.35 33.35)" font-size="10" font-style="italic" stroke="currentColor" stroke-width="0.137">D</text>
<g fill="#303030" color="#303030">
<text transform="matrix(1.68000 0 0 1.52632 500.89 307.70)" font-size="10" font-style="italic">t</text>
<text transform="matrix(2.00000 0 0 1.48000 510.15 309.78)" font-size="10" font-style="normal">=</text>
<text transform="matrix(1.13725 0 0 1.50000 527.34 308.30)" font-size="10" font-style="normal">(</text>
<text transform="matrix(1.44000 0 0 1.52632 531.50 307.70)" font-size="10" font-style="italic">t</text>
<text transform="matrix(1.11538 0 0 1.60000 535.96 307.70)" font-size="10" font-style="normal">-</text>
<text transform="matrix(1.80000 0 0 1.52632 539.24 307.70)" font-size="10" font-style="italic">t</text>
<text transform="matrix(1.21429 0 0 0.84444 545.06 310.17)" font-size="10" font-style="normal">0</text>
<text transform="matrix(1.11538 0 0 1.50000 553.12 308.30)" font-size="10" font-style="normal">)</text>
<text transform="matrix(2.07273 0 0 1.98496 557.95 310.95)" font-size="10" font-style="normal">/</text>
<text transform="matrix(1.70909 0 0 1.38462 564.14 307.55)" font-size="10" font-style="italic">T</text>
<text transform="matrix(0 -1.55200 1.44615 0 362.82 114.77)" font-size="10" font-style="italic">F</text>
<text transform="matrix(0 -1.85455 2.16541 0 366.43 104.45)" font-size="10" font-style="normal">/</text>
<text transform="matrix(0 -1.44000 1.44615 0 362.72 96.68)" font-size="10" font-style="italic">F</text>
<text transform="matrix(0 -0.82581 0.97710 0 364.45 86.57)" font-size="10" font-style="italic" stroke="currentColor" stroke-width="0.155">H</text>
<text transform="matrix(0 -1.34737 0.95522 0 364.75 79.28)" font-size="10" font-style="italic" stroke="currentColor" stroke-width="0.122">S</text>
<text transform="matrix(0 -1.21569 1.62222 0 362.84 287.90)" font-size="10" font-style="normal">(</text>
<text transform="matrix(0 -1.55200 1.53846 0 363.03 282.27)" font-size="10" font-style="italic">F</text>
<text transform="matrix(0 -1.12397 1.09924 0 365.05 272.34)" font-size="10" font-style="italic" stroke="currentColor" stroke-width="0.126">E</text>
<text transform="matrix(0 -1.12360 0.94505 0 364.65 263.24)" font-size="10" font-style="italic" stroke="currentColor" stroke-width="0.135">x</text>
<text transform="matrix(0 -0.96226 1.04412 0 364.46 255.87)" font-size="10" font-style="italic" stroke="currentColor" stroke-width="0.140">p</text>
<text transform="matrix(0 -1.42308 1.86667 0 363.83 252.10)" font-size="10" font-style="normal">-</text>
<text transform="matrix(0 -1.55200 1.47692 0 362.62 245.97)" font-size="10" font-style="italic">F</text>
<text transform="matrix(0 -0.93706 0.97710 0 364.65 235.76)" font-size="10" font-style="italic" stroke="currentColor" stroke-width="0.146">D</text>
<text transform="matrix(0 -1.15385 1.53333 0 362.63 226.70)" font-size="10" font-style="normal">)</text>
<text transform="matrix(0 -2.00000 2.07519 0 365.64 220.95)" font-size="10" font-style="normal">/</text>
<text transform="matrix(0 -1.56800 1.47692 0 362.62 213.67)" font-size="10" font-style="italic">F</text>
<text transform="matrix(0 -0.92903 1.03817 0 364.65 203.46)" font-size="10" font-style="italic" stroke="currentColor" stroke-width="0.142">H</text>
<text transform="matrix(0 -1.32632 1.07463 0 364.54 195.38)" font-size="10" font-style="italic" stroke="currentColor" stroke-width="0.117">S</text>
</g>
<path d="M503.3 298L505.2 295.8L507.1 298" stroke="#303030" stroke-width="0.8" fill="none"/>
<text x="510" y="354" text-anchor="middle" font-size="21.5">(b)</text>
<text transform="matrix(1.56800 0 0 1.40000 897.03 30.52)" font-size="10" font-style="italic">F</text>
<text transform="matrix(1.09091 0 0 0.93130 907.36 32.05)" font-size="10" font-style="italic" stroke="currentColor" stroke-width="0.138">E</text>
<text transform="matrix(1.25843 0 0 0.87912 915.48 32.05)" font-size="10" font-style="italic" stroke="currentColor" stroke-width="0.131">x</text>
<text transform="matrix(0.92453 0 0 0.94118 923.20 32.47)" font-size="10" font-style="italic" stroke="currentColor" stroke-width="0.150">p</text>
<text transform="matrix(1.58400 0 0 1.41538 984.53 31.42)" font-size="10" font-style="italic">F</text>
<text transform="matrix(1.03497 0 0 1.00763 994.35 33.35)" font-size="10" font-style="italic" stroke="currentColor" stroke-width="0.137">D</text>
<g fill="#303030" color="#303030">
<text transform="matrix(1.68000 0 0 1.52632 848.89 307.70)" font-size="10" font-style="italic">t</text>
<text transform="matrix(2.00000 0 0 1.48000 858.15 309.78)" font-size="10" font-style="normal">=</text>
<text transform="matrix(1.13725 0 0 1.50000 875.34 308.30)" font-size="10" font-style="normal">(</text>
<text transform="matrix(1.44000 0 0 1.52632 879.50 307.70)" font-size="10" font-style="italic">t</text>
<text transform="matrix(1.11538 0 0 1.60000 883.96 307.70)" font-size="10" font-style="normal">-</text>
<text transform="matrix(1.80000 0 0 1.52632 887.24 307.70)" font-size="10" font-style="italic">t</text>
<text transform="matrix(1.21429 0 0 0.84444 893.06 310.17)" font-size="10" font-style="normal">0</text>
<text transform="matrix(1.11538 0 0 1.50000 901.12 308.30)" font-size="10" font-style="normal">)</text>
<text transform="matrix(2.07273 0 0 1.98496 905.95 310.95)" font-size="10" font-style="normal">/</text>
<text transform="matrix(1.70909 0 0 1.38462 912.14 307.55)" font-size="10" font-style="italic">T</text>
<text transform="matrix(0 -1.55200 1.44615 0 710.82 114.77)" font-size="10" font-style="italic">F</text>
<text transform="matrix(0 -1.85455 2.16541 0 714.43 104.45)" font-size="10" font-style="normal">/</text>
<text transform="matrix(0 -1.44000 1.44615 0 710.72 96.68)" font-size="10" font-style="italic">F</text>
<text transform="matrix(0 -0.82581 0.97710 0 712.45 86.57)" font-size="10" font-style="italic" stroke="currentColor" stroke-width="0.155">H</text>
<text transform="matrix(0 -1.34737 0.95522 0 712.75 79.28)" font-size="10" font-style="italic" stroke="currentColor" stroke-width="0.122">S</text>
<text transform="matrix(0 -1.21569 1.62222 0 710.84 287.90)" font-size="10" font-style="normal">(</text>
<text transform="matrix(0 -1.55200 1.53846 0 711.03 282.27)" font-size="10" font-style="italic">F</text>
<text transform="matrix(0 -1.12397 1.09924 0 713.05 272.34)" font-size="10" font-style="italic" stroke="currentColor" stroke-width="0.126">E</text>
<text transform="matrix(0 -1.12360 0.94505 0 712.65 263.24)" font-size="10" font-style="italic" stroke="currentColor" stroke-width="0.135">x</text>
<text transform="matrix(0 -0.96226 1.04412 0 712.46 255.87)" font-size="10" font-style="italic" stroke="currentColor" stroke-width="0.140">p</text>
<text transform="matrix(0 -1.42308 1.86667 0 711.83 252.10)" font-size="10" font-style="normal">-</text>
<text transform="matrix(0 -1.55200 1.47692 0 710.62 245.97)" font-size="10" font-style="italic">F</text>
<text transform="matrix(0 -0.93706 0.97710 0 712.65 235.76)" font-size="10" font-style="italic" stroke="currentColor" stroke-width="0.146">D</text>
<text transform="matrix(0 -1.15385 1.53333 0 710.63 226.70)" font-size="10" font-style="normal">)</text>
<text transform="matrix(0 -2.00000 2.07519 0 713.64 220.95)" font-size="10" font-style="normal">/</text>
<text transform="matrix(0 -1.56800 1.47692 0 710.62 213.67)" font-size="10" font-style="italic">F</text>
<text transform="matrix(0 -0.92903 1.03817 0 712.65 203.46)" font-size="10" font-style="italic" stroke="currentColor" stroke-width="0.142">H</text>
<text transform="matrix(0 -1.32632 1.07463 0 712.54 195.38)" font-size="10" font-style="italic" stroke="currentColor" stroke-width="0.117">S</text>
</g>
<path d="M851.3 298L853.2 295.8L855.1 298" stroke="#303030" stroke-width="0.8" fill="none"/>
<text x="858" y="354" text-anchor="middle" font-size="21.5">(c)</text>
</g>
</svg></body></html>
